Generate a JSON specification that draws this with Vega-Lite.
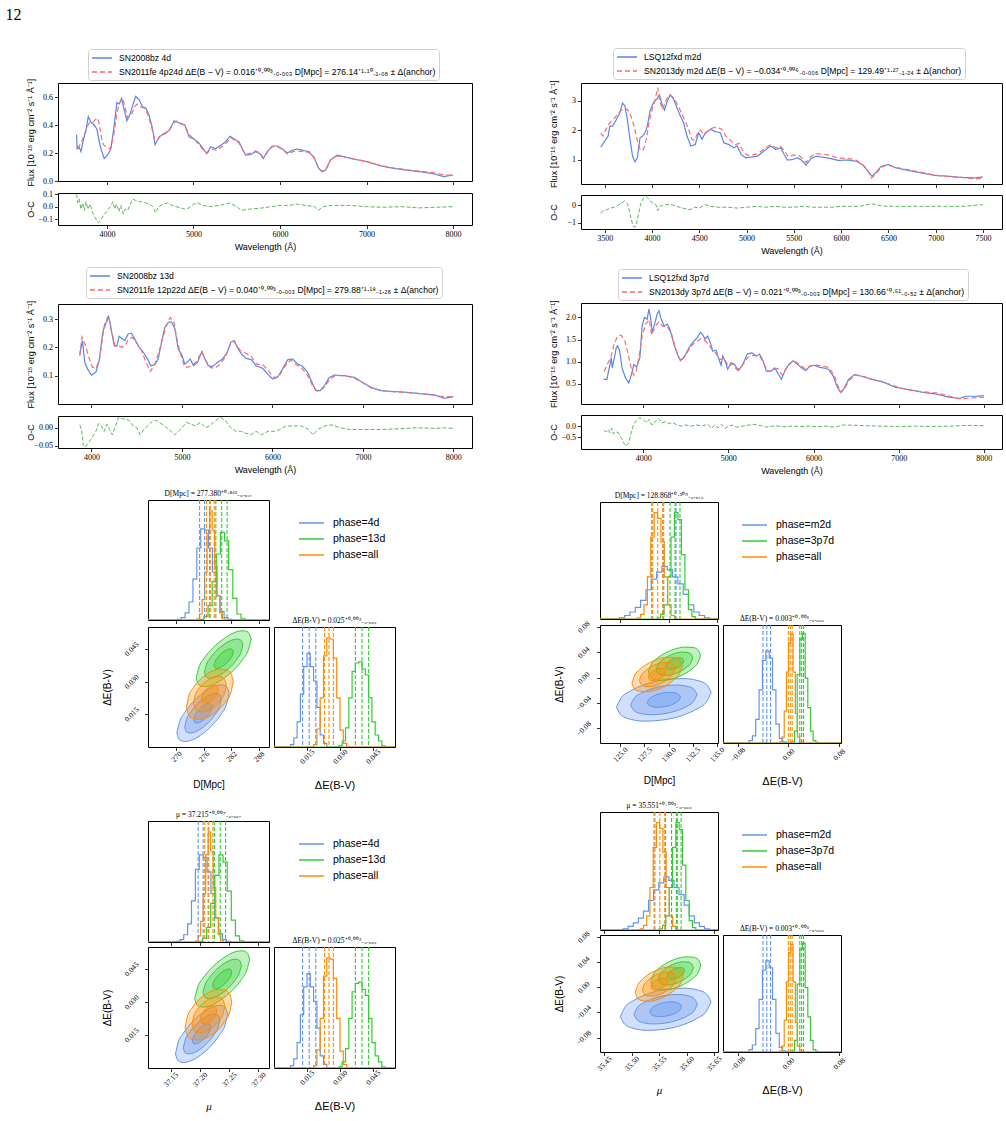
{
"$schema": "https://vega.github.io/schema/vega-lite/v6.json",
"padding": {"left": 5, "top": 7, "right": 2, "bottom": 2},
"title": {"text": "12", "anchor": "start", "frame": "bounds", "font": "Liberation Serif", "fontSize": 16, "fontWeight": "normal", "color": "#000", "dx": -20, "offset": 24},
"config": {
  "view": {"stroke": "#000", "strokeWidth": 1},
  "axis": {"grid": false, "domain": false, "tickColor": "#000", "tickSize": 3.5, "tickWidth": 0.8, "labelFont": "Liberation Serif", "labelFontSize": 8, "labelColor": "#000", "labelPadding": 2, "labelFlush": false, "labelOverlap": false, "titleFont": "Liberation Sans", "titleFontSize": 9, "titleFontWeight": "normal", "titleColor": "#000", "titlePadding": 4},
  "legend": {"labelColor": "#000"}
},
"datasets": {
"fAL": [
{"w":3650,"f":0.33,"s":"a"},{"w":3656,"f":0.23,"s":"a"},{"w":3681,"f":0.24,"s":"a"},{"w":3700,"f":0.21,"s":"a"},{"w":3731,"f":0.30,"s":"a"},{"w":3758,"f":0.36,"s":"a"},{"w":3785,"f":0.46,"s":"a"},{"w":3815,"f":0.42,"s":"a"},{"w":3854,"f":0.40,"s":"a"},{"w":3885,"f":0.37,"s":"a"},{"w":3912,"f":0.28,"s":"a"},{"w":3931,"f":0.23,"s":"a"},{"w":3969,"f":0.16,"s":"a"},{"w":4008,"f":0.185,"s":"a"},{"w":4046,"f":0.23,"s":"a"},{"w":4085,"f":0.40,"s":"a"},{"w":4115,"f":0.56,"s":"a"},{"w":4142,"f":0.55,"s":"a"},{"w":4169,"f":0.59,"s":"a"},{"w":4192,"f":0.53,"s":"a"},{"w":4231,"f":0.43,"s":"a"},{"w":4269,"f":0.48,"s":"a"},{"w":4308,"f":0.56,"s":"a"},{"w":4334,"f":0.605,"s":"a"},{"w":4373,"f":0.58,"s":"a"},{"w":4411,"f":0.53,"s":"a"},{"w":4450,"f":0.52,"s":"a"},{"w":4488,"f":0.47,"s":"a"},{"w":4527,"f":0.375,"s":"a"},{"w":4557,"f":0.26,"s":"a"},{"w":4604,"f":0.315,"s":"a"},{"w":4661,"f":0.34,"s":"a"},{"w":4719,"f":0.36,"s":"a"},{"w":4777,"f":0.43,"s":"a"},{"w":4815,"f":0.42,"s":"a"},{"w":4854,"f":0.41,"s":"a"},{"w":4900,"f":0.40,"s":"a"},{"w":4950,"f":0.315,"s":"a"},{"w":5007,"f":0.30,"s":"a"},{"w":5065,"f":0.27,"s":"a"},{"w":5115,"f":0.23,"s":"a"},{"w":5153,"f":0.195,"s":"a"},{"w":5200,"f":0.245,"s":"a"},{"w":5257,"f":0.23,"s":"a"},{"w":5315,"f":0.255,"s":"a"},{"w":5373,"f":0.28,"s":"a"},{"w":5423,"f":0.32,"s":"a"},{"w":5469,"f":0.30,"s":"a"},{"w":5526,"f":0.28,"s":"a"},{"w":5565,"f":0.23,"s":"a"},{"w":5603,"f":0.185,"s":"a"},{"w":5661,"f":0.19,"s":"a"},{"w":5719,"f":0.21,"s":"a"},{"w":5769,"f":0.195,"s":"a"},{"w":5807,"f":0.16,"s":"a"},{"w":5853,"f":0.21,"s":"a"},{"w":5911,"f":0.25,"s":"a"},{"w":5969,"f":0.25,"s":"a"},{"w":6026,"f":0.23,"s":"a"},{"w":6084,"f":0.20,"s":"a"},{"w":6142,"f":0.22,"s":"a"},{"w":6199,"f":0.228,"s":"a"},{"w":6257,"f":0.22,"s":"a"},{"w":6334,"f":0.21,"s":"a"},{"w":6391,"f":0.17,"s":"a"},{"w":6449,"f":0.09,"s":"a"},{"w":6487,"f":0.066,"s":"a"},{"w":6526,"f":0.078,"s":"a"},{"w":6584,"f":0.15,"s":"a"},{"w":6660,"f":0.185,"s":"a"},{"w":6737,"f":0.173,"s":"a"},{"w":6853,"f":0.157,"s":"a"},{"w":7006,"f":0.138,"s":"a"},{"w":7160,"f":0.109,"s":"a"},{"w":7314,"f":0.09,"s":"a"},{"w":7468,"f":0.078,"s":"a"},{"w":7622,"f":0.066,"s":"a"},{"w":7775,"f":0.052,"s":"a"},{"w":7891,"f":0.031,"s":"a"},{"w":8000,"f":0.043,"s":"a"},
{"w":3650,"f":0.24,"s":"b"},{"w":3681,"f":0.25,"s":"b"},{"w":3720,"f":0.30,"s":"b"},{"w":3760,"f":0.37,"s":"b"},{"w":3800,"f":0.42,"s":"b"},{"w":3840,"f":0.42,"s":"b"},{"w":3870,"f":0.44,"s":"b"},{"w":3892,"f":0.45,"s":"b"},{"w":3915,"f":0.40,"s":"b"},{"w":3940,"f":0.30,"s":"b"},{"w":3960,"f":0.26,"s":"b"},{"w":4000,"f":0.24,"s":"b"},{"w":4040,"f":0.23,"s":"b"},{"w":4080,"f":0.33,"s":"b"},{"w":4120,"f":0.50,"s":"b"},{"w":4150,"f":0.56,"s":"b"},{"w":4180,"f":0.59,"s":"b"},{"w":4200,"f":0.55,"s":"b"},{"w":4240,"f":0.45,"s":"b"},{"w":4280,"f":0.47,"s":"b"},{"w":4320,"f":0.53,"s":"b"},{"w":4350,"f":0.55,"s":"b"},{"w":4390,"f":0.53,"s":"b"},{"w":4430,"f":0.52,"s":"b"},{"w":4470,"f":0.48,"s":"b"},{"w":4510,"f":0.40,"s":"b"},{"w":4550,"f":0.30,"s":"b"},{"w":4580,"f":0.29,"s":"b"},{"w":4620,"f":0.32,"s":"b"},{"w":4680,"f":0.34,"s":"b"},{"w":4730,"f":0.37,"s":"b"},{"w":4780,"f":0.42,"s":"b"},{"w":4820,"f":0.43,"s":"b"},{"w":4860,"f":0.41,"s":"b"},{"w":4900,"f":0.40,"s":"b"},{"w":4950,"f":0.33,"s":"b"},{"w":5007,"f":0.30,"s":"b"},{"w":5065,"f":0.26,"s":"b"},{"w":5115,"f":0.22,"s":"b"},{"w":5160,"f":0.20,"s":"b"},{"w":5210,"f":0.23,"s":"b"},{"w":5260,"f":0.22,"s":"b"},{"w":5320,"f":0.24,"s":"b"},{"w":5380,"f":0.27,"s":"b"},{"w":5430,"f":0.31,"s":"b"},{"w":5480,"f":0.29,"s":"b"},{"w":5530,"f":0.27,"s":"b"},{"w":5570,"f":0.22,"s":"b"},{"w":5610,"f":0.19,"s":"b"},{"w":5660,"f":0.20,"s":"b"},{"w":5720,"f":0.215,"s":"b"},{"w":5770,"f":0.20,"s":"b"},{"w":5810,"f":0.165,"s":"b"},{"w":5860,"f":0.21,"s":"b"},{"w":5911,"f":0.245,"s":"b"},{"w":5970,"f":0.245,"s":"b"},{"w":6030,"f":0.225,"s":"b"},{"w":6090,"f":0.19,"s":"b"},{"w":6150,"f":0.21,"s":"b"},{"w":6200,"f":0.215,"s":"b"},{"w":6260,"f":0.21,"s":"b"},{"w":6334,"f":0.205,"s":"b"},{"w":6391,"f":0.17,"s":"b"},{"w":6440,"f":0.10,"s":"b"},{"w":6487,"f":0.07,"s":"b"},{"w":6530,"f":0.08,"s":"b"},{"w":6584,"f":0.15,"s":"b"},{"w":6660,"f":0.18,"s":"b"},{"w":6737,"f":0.172,"s":"b"},{"w":6853,"f":0.157,"s":"b"},{"w":7006,"f":0.138,"s":"b"},{"w":7160,"f":0.11,"s":"b"},{"w":7314,"f":0.093,"s":"b"},{"w":7468,"f":0.08,"s":"b"},{"w":7622,"f":0.07,"s":"b"},{"w":7775,"f":0.058,"s":"b"},{"w":7891,"f":0.045,"s":"b"},{"w":8000,"f":0.04,"s":"b"}
],
"oAL": [
{"w":3650,"d":0.10},{"w":3665,"d":0.03},{"w":3680,"d":0.06},{"w":3700,"d":-0.02},{"w":3720,"d":0.03},{"w":3740,"d":-0.03},{"w":3760,"d":0.04},{"w":3780,"d":-0.02},{"w":3805,"d":0.02},{"w":3835,"d":-0.05},{"w":3865,"d":-0.09},{"w":3900,"d":-0.13},{"w":3930,"d":-0.11},{"w":3960,"d":-0.07},{"w":4000,"d":-0.04},{"w":4040,"d":0.0},{"w":4070,"d":0.04},{"w":4090,"d":-0.02},{"w":4110,"d":0.02},{"w":4140,"d":-0.04},{"w":4160,"d":0.01},{"w":4190,"d":-0.06},{"w":4210,"d":-0.02},{"w":4240,"d":-0.03},{"w":4270,"d":0.02},{"w":4300,"d":0.06},{"w":4330,"d":0.05},{"w":4360,"d":0.04},{"w":4400,"d":0.04},{"w":4450,"d":0.03},{"w":4500,"d":0.02},{"w":4540,"d":-0.01},{"w":4560,"d":-0.05},{"w":4600,"d":0.0},{"w":4650,"d":0.02},{"w":4700,"d":0.03},{"w":4750,"d":0.01},{"w":4800,"d":0.0},{"w":4850,"d":-0.01},{"w":4900,"d":-0.02},{"w":4950,"d":-0.01},{"w":5000,"d":0.02},{"w":5050,"d":0.03},{"w":5100,"d":0.01},{"w":5200,"d":0.0},{"w":5300,"d":0.01},{"w":5420,"d":0.03},{"w":5500,"d":0.0},{"w":5550,"d":-0.03},{"w":5650,"d":-0.02},{"w":5800,"d":-0.01},{"w":5900,"d":0.0},{"w":6000,"d":0.01},{"w":6100,"d":0.01},{"w":6200,"d":0.02},{"w":6300,"d":0.01},{"w":6400,"d":0.0},{"w":6440,"d":-0.03},{"w":6500,"d":0.0},{"w":6600,"d":0.01},{"w":6800,"d":0.01},{"w":7000,"d":0.0},{"w":7200,"d":-0.005},{"w":7400,"d":0.0},{"w":7600,"d":-0.01},{"w":7800,"d":-0.005},{"w":8000,"d":0.0}
],
"fAR": [
{"w":3457,"f":1.42,"s":"a"},{"w":3500,"f":1.63,"s":"a"},{"w":3535,"f":1.8,"s":"a"},{"w":3553,"f":2.14,"s":"a"},{"w":3582,"f":2.14,"s":"a"},{"w":3624,"f":2.37,"s":"a"},{"w":3660,"f":2.6,"s":"a"},{"w":3688,"f":2.92,"s":"a"},{"w":3713,"f":2.83,"s":"a"},{"w":3738,"f":2.37,"s":"a"},{"w":3766,"f":1.69,"s":"a"},{"w":3794,"f":1.11,"s":"a"},{"w":3819,"f":0.92,"s":"a"},{"w":3844,"f":1.06,"s":"a"},{"w":3872,"f":1.74,"s":"a"},{"w":3901,"f":1.8,"s":"a"},{"w":3926,"f":1.91,"s":"a"},{"w":3950,"f":2.14,"s":"a"},{"w":3979,"f":2.66,"s":"a"},{"w":4014,"f":2.94,"s":"a"},{"w":4050,"f":3.06,"s":"a"},{"w":4078,"f":3.19,"s":"a"},{"w":4106,"f":2.89,"s":"a"},{"w":4131,"f":2.69,"s":"a"},{"w":4156,"f":2.94,"s":"a"},{"w":4191,"f":3.2,"s":"a"},{"w":4227,"f":3.06,"s":"a"},{"w":4262,"f":2.77,"s":"a"},{"w":4298,"f":2.49,"s":"a"},{"w":4333,"f":2.26,"s":"a"},{"w":4369,"f":1.8,"s":"a"},{"w":4411,"f":1.46,"s":"a"},{"w":4457,"f":1.51,"s":"a"},{"w":4493,"f":1.91,"s":"a"},{"w":4528,"f":1.69,"s":"a"},{"w":4564,"f":1.91,"s":"a"},{"w":4617,"f":2.03,"s":"a"},{"w":4670,"f":1.95,"s":"a"},{"w":4723,"f":1.91,"s":"a"},{"w":4759,"f":1.57,"s":"a"},{"w":4812,"f":1.51,"s":"a"},{"w":4865,"f":1.4,"s":"a"},{"w":4901,"f":1.46,"s":"a"},{"w":4943,"f":1.17,"s":"a"},{"w":4989,"f":1.06,"s":"a"},{"w":5043,"f":1.08,"s":"a"},{"w":5113,"f":1.11,"s":"a"},{"w":5184,"f":1.29,"s":"a"},{"w":5255,"f":1.46,"s":"a"},{"w":5308,"f":1.34,"s":"a"},{"w":5362,"f":1.4,"s":"a"},{"w":5397,"f":1.17,"s":"a"},{"w":5433,"f":0.98,"s":"a"},{"w":5486,"f":1.0,"s":"a"},{"w":5539,"f":1.06,"s":"a"},{"w":5582,"f":0.97,"s":"a"},{"w":5628,"f":0.81,"s":"a"},{"w":5681,"f":1.03,"s":"a"},{"w":5734,"f":1.11,"s":"a"},{"w":5805,"f":1.08,"s":"a"},{"w":5894,"f":1.03,"s":"a"},{"w":5964,"f":0.97,"s":"a"},{"w":6071,"f":0.98,"s":"a"},{"w":6160,"f":0.94,"s":"a"},{"w":6230,"f":0.81,"s":"a"},{"w":6284,"f":0.6,"s":"a"},{"w":6326,"f":0.43,"s":"a"},{"w":6362,"f":0.54,"s":"a"},{"w":6425,"f":0.77,"s":"a"},{"w":6496,"f":0.83,"s":"a"},{"w":6585,"f":0.71,"s":"a"},{"w":6709,"f":0.63,"s":"a"},{"w":6851,"f":0.54,"s":"a"},{"w":6993,"f":0.46,"s":"a"},{"w":7135,"f":0.43,"s":"a"},{"w":7276,"f":0.39,"s":"a"},{"w":7418,"f":0.37,"s":"a"},{"w":7500,"f":0.41,"s":"a"},
{"w":3457,"f":1.9,"s":"b"},{"w":3480,"f":1.8,"s":"b"},{"w":3540,"f":2.2,"s":"b"},{"w":3600,"f":2.4,"s":"b"},{"w":3650,"f":2.6,"s":"b"},{"w":3700,"f":2.75,"s":"b"},{"w":3740,"f":2.7,"s":"b"},{"w":3780,"f":2.45,"s":"b"},{"w":3820,"f":2.0,"s":"b"},{"w":3850,"f":1.55,"s":"b"},{"w":3880,"f":1.3,"s":"b"},{"w":3910,"f":1.35,"s":"b"},{"w":3940,"f":1.7,"s":"b"},{"w":3970,"f":2.3,"s":"b"},{"w":4000,"f":2.7,"s":"b"},{"w":4030,"f":3.0,"s":"b"},{"w":4060,"f":3.45,"s":"b"},{"w":4080,"f":3.0,"s":"b"},{"w":4110,"f":2.7,"s":"b"},{"w":4160,"f":3.1,"s":"b"},{"w":4190,"f":3.2,"s":"b"},{"w":4230,"f":3.1,"s":"b"},{"w":4280,"f":2.8,"s":"b"},{"w":4330,"f":2.45,"s":"b"},{"w":4380,"f":2.1,"s":"b"},{"w":4420,"f":1.7,"s":"b"},{"w":4450,"f":1.65,"s":"b"},{"w":4480,"f":1.9,"s":"b"},{"w":4510,"f":2.0,"s":"b"},{"w":4550,"f":1.85,"s":"b"},{"w":4620,"f":2.05,"s":"b"},{"w":4670,"f":2.1,"s":"b"},{"w":4730,"f":2.05,"s":"b"},{"w":4780,"f":1.8,"s":"b"},{"w":4830,"f":1.65,"s":"b"},{"w":4880,"f":1.5,"s":"b"},{"w":4920,"f":1.55,"s":"b"},{"w":4960,"f":1.3,"s":"b"},{"w":5000,"f":1.15,"s":"b"},{"w":5060,"f":1.15,"s":"b"},{"w":5120,"f":1.2,"s":"b"},{"w":5180,"f":1.35,"s":"b"},{"w":5250,"f":1.5,"s":"b"},{"w":5310,"f":1.4,"s":"b"},{"w":5360,"f":1.45,"s":"b"},{"w":5400,"f":1.3,"s":"b"},{"w":5440,"f":1.1,"s":"b"},{"w":5500,"f":1.15,"s":"b"},{"w":5550,"f":1.15,"s":"b"},{"w":5600,"f":1.0,"s":"b"},{"w":5630,"f":0.9,"s":"b"},{"w":5680,"f":1.1,"s":"b"},{"w":5730,"f":1.2,"s":"b"},{"w":5800,"f":1.18,"s":"b"},{"w":5880,"f":1.15,"s":"b"},{"w":5960,"f":1.05,"s":"b"},{"w":6070,"f":1.03,"s":"b"},{"w":6150,"f":1.0,"s":"b"},{"w":6220,"f":0.85,"s":"b"},{"w":6280,"f":0.65,"s":"b"},{"w":6320,"f":0.37,"s":"b"},{"w":6360,"f":0.48,"s":"b"},{"w":6420,"f":0.72,"s":"b"},{"w":6490,"f":0.82,"s":"b"},{"w":6580,"f":0.73,"s":"b"},{"w":6700,"f":0.66,"s":"b"},{"w":6850,"f":0.56,"s":"b"},{"w":7000,"f":0.46,"s":"b"},{"w":7150,"f":0.42,"s":"b"},{"w":7300,"f":0.38,"s":"b"},{"w":7420,"f":0.34,"s":"b"},{"w":7500,"f":0.36,"s":"b"}
],
"oAR": [
{"w":3457,"d":-0.45},{"w":3480,"d":-0.3},{"w":3520,"d":-0.25},{"w":3560,"d":-0.15},{"w":3600,"d":-0.1},{"w":3640,"d":0.0},{"w":3680,"d":0.15},{"w":3710,"d":0.25},{"w":3740,"d":0.1},{"w":3760,"d":-0.3},{"w":3780,"d":-0.8},{"w":3800,"d":-1.2},{"w":3820,"d":-1.25},{"w":3840,"d":-0.9},{"w":3860,"d":-0.4},{"w":3880,"d":0.1},{"w":3910,"d":0.45},{"w":3940,"d":0.5},{"w":3970,"d":0.35},{"w":4000,"d":0.15},{"w":4040,"d":0.05},{"w":4060,"d":-0.3},{"w":4080,"d":-0.05},{"w":4110,"d":0.0},{"w":4140,"d":0.05},{"w":4200,"d":0.05},{"w":4260,"d":-0.05},{"w":4320,"d":-0.15},{"w":4400,"d":-0.25},{"w":4450,"d":-0.1},{"w":4500,"d":-0.15},{"w":4560,"d":0.05},{"w":4620,"d":-0.05},{"w":4700,"d":-0.1},{"w":4800,"d":-0.1},{"w":4900,"d":-0.15},{"w":5000,"d":-0.1},{"w":5100,"d":-0.05},{"w":5200,"d":-0.1},{"w":5300,"d":-0.05},{"w":5400,"d":-0.1},{"w":5500,"d":-0.1},{"w":5600,"d":-0.05},{"w":5700,"d":-0.1},{"w":5800,"d":-0.1},{"w":5900,"d":-0.1},{"w":6000,"d":-0.05},{"w":6100,"d":-0.05},{"w":6200,"d":-0.05},{"w":6320,"d":0.1},{"w":6400,"d":0.0},{"w":6500,"d":-0.05},{"w":6700,"d":-0.05},{"w":6900,"d":-0.05},{"w":7100,"d":-0.05},{"w":7300,"d":-0.05},{"w":7500,"d":0.05}
],
"fBL": [
{"w":3871,"f":0.176,"s":"a"},{"w":3900,"f":0.224,"s":"a"},{"w":3926,"f":0.147,"s":"a"},{"w":3956,"f":0.124,"s":"a"},{"w":4000,"f":0.102,"s":"a"},{"w":4048,"f":0.112,"s":"a"},{"w":4085,"f":0.153,"s":"a"},{"w":4122,"f":0.247,"s":"a"},{"w":4147,"f":0.282,"s":"a"},{"w":4170,"f":0.29,"s":"a"},{"w":4188,"f":0.312,"s":"a"},{"w":4214,"f":0.27,"s":"a"},{"w":4251,"f":0.206,"s":"a"},{"w":4280,"f":0.204,"s":"a"},{"w":4306,"f":0.239,"s":"a"},{"w":4332,"f":0.232,"s":"a"},{"w":4369,"f":0.224,"s":"a"},{"w":4406,"f":0.247,"s":"a"},{"w":4442,"f":0.25,"s":"a"},{"w":4479,"f":0.229,"s":"a"},{"w":4527,"f":0.2,"s":"a"},{"w":4575,"f":0.182,"s":"a"},{"w":4619,"f":0.159,"s":"a"},{"w":4656,"f":0.135,"s":"a"},{"w":4701,"f":0.139,"s":"a"},{"w":4737,"f":0.159,"s":"a"},{"w":4774,"f":0.218,"s":"a"},{"w":4811,"f":0.271,"s":"a"},{"w":4848,"f":0.288,"s":"a"},{"w":4885,"f":0.29,"s":"a"},{"w":4922,"f":0.265,"s":"a"},{"w":4959,"f":0.194,"s":"a"},{"w":4995,"f":0.176,"s":"a"},{"w":5032,"f":0.141,"s":"a"},{"w":5062,"f":0.149,"s":"a"},{"w":5091,"f":0.159,"s":"a"},{"w":5128,"f":0.135,"s":"a"},{"w":5172,"f":0.147,"s":"a"},{"w":5220,"f":0.185,"s":"a"},{"w":5254,"f":0.159,"s":"a"},{"w":5290,"f":0.135,"s":"a"},{"w":5338,"f":0.133,"s":"a"},{"w":5394,"f":0.147,"s":"a"},{"w":5449,"f":0.159,"s":"a"},{"w":5497,"f":0.18,"s":"a"},{"w":5541,"f":0.218,"s":"a"},{"w":5578,"f":0.224,"s":"a"},{"w":5622,"f":0.194,"s":"a"},{"w":5659,"f":0.176,"s":"a"},{"w":5707,"f":0.161,"s":"a"},{"w":5770,"f":0.156,"s":"a"},{"w":5818,"f":0.135,"s":"a"},{"w":5891,"f":0.126,"s":"a"},{"w":5947,"f":0.106,"s":"a"},{"w":6002,"f":0.088,"s":"a"},{"w":6057,"f":0.094,"s":"a"},{"w":6113,"f":0.124,"s":"a"},{"w":6168,"f":0.156,"s":"a"},{"w":6223,"f":0.159,"s":"a"},{"w":6279,"f":0.141,"s":"a"},{"w":6334,"f":0.133,"s":"a"},{"w":6389,"f":0.112,"s":"a"},{"w":6445,"f":0.071,"s":"a"},{"w":6481,"f":0.047,"s":"a"},{"w":6529,"f":0.047,"s":"a"},{"w":6574,"f":0.065,"s":"a"},{"w":6629,"f":0.094,"s":"a"},{"w":6684,"f":0.102,"s":"a"},{"w":6795,"f":0.1,"s":"a"},{"w":6905,"f":0.094,"s":"a"},{"w":6998,"f":0.076,"s":"a"},{"w":7090,"f":0.059,"s":"a"},{"w":7200,"f":0.047,"s":"a"},{"w":7348,"f":0.044,"s":"a"},{"w":7495,"f":0.041,"s":"a"},{"w":7643,"f":0.036,"s":"a"},{"w":7790,"f":0.032,"s":"a"},{"w":7901,"f":0.02,"s":"a"},{"w":8000,"f":0.026,"s":"a"},
{"w":3871,"f":0.17,"s":"b"},{"w":3895,"f":0.237,"s":"b"},{"w":3930,"f":0.21,"s":"b"},{"w":3970,"f":0.165,"s":"b"},{"w":4010,"f":0.13,"s":"b"},{"w":4050,"f":0.125,"s":"b"},{"w":4090,"f":0.16,"s":"b"},{"w":4130,"f":0.25,"s":"b"},{"w":4175,"f":0.305,"s":"b"},{"w":4190,"f":0.31,"s":"b"},{"w":4220,"f":0.26,"s":"b"},{"w":4260,"f":0.205,"s":"b"},{"w":4300,"f":0.205,"s":"b"},{"w":4340,"f":0.2,"s":"b"},{"w":4370,"f":0.205,"s":"b"},{"w":4410,"f":0.23,"s":"b"},{"w":4450,"f":0.235,"s":"b"},{"w":4500,"f":0.215,"s":"b"},{"w":4550,"f":0.19,"s":"b"},{"w":4600,"f":0.15,"s":"b"},{"w":4650,"f":0.115,"s":"b"},{"w":4700,"f":0.14,"s":"b"},{"w":4760,"f":0.2,"s":"b"},{"w":4820,"f":0.27,"s":"b"},{"w":4870,"f":0.305,"s":"b"},{"w":4910,"f":0.29,"s":"b"},{"w":4950,"f":0.22,"s":"b"},{"w":4990,"f":0.17,"s":"b"},{"w":5030,"f":0.13,"s":"b"},{"w":5070,"f":0.13,"s":"b"},{"w":5110,"f":0.135,"s":"b"},{"w":5160,"f":0.15,"s":"b"},{"w":5220,"f":0.185,"s":"b"},{"w":5260,"f":0.155,"s":"b"},{"w":5310,"f":0.13,"s":"b"},{"w":5360,"f":0.125,"s":"b"},{"w":5420,"f":0.14,"s":"b"},{"w":5480,"f":0.165,"s":"b"},{"w":5540,"f":0.215,"s":"b"},{"w":5580,"f":0.22,"s":"b"},{"w":5640,"f":0.19,"s":"b"},{"w":5700,"f":0.18,"s":"b"},{"w":5760,"f":0.17,"s":"b"},{"w":5830,"f":0.14,"s":"b"},{"w":5890,"f":0.14,"s":"b"},{"w":5950,"f":0.12,"s":"b"},{"w":6010,"f":0.095,"s":"b"},{"w":6070,"f":0.095,"s":"b"},{"w":6130,"f":0.13,"s":"b"},{"w":6200,"f":0.155,"s":"b"},{"w":6260,"f":0.14,"s":"b"},{"w":6330,"f":0.125,"s":"b"},{"w":6390,"f":0.1,"s":"b"},{"w":6450,"f":0.06,"s":"b"},{"w":6500,"f":0.045,"s":"b"},{"w":6560,"f":0.055,"s":"b"},{"w":6630,"f":0.085,"s":"b"},{"w":6690,"f":0.1,"s":"b"},{"w":6800,"f":0.1,"s":"b"},{"w":6900,"f":0.092,"s":"b"},{"w":7000,"f":0.075,"s":"b"},{"w":7100,"f":0.055,"s":"b"},{"w":7250,"f":0.045,"s":"b"},{"w":7400,"f":0.042,"s":"b"},{"w":7550,"f":0.039,"s":"b"},{"w":7700,"f":0.035,"s":"b"},{"w":7850,"f":0.028,"s":"b"},{"w":8000,"f":0.025,"s":"b"}
],
"oBL": [
{"w":3871,"d":0.008},{"w":3890,"d":-0.005},{"w":3910,"d":-0.05},{"w":3930,"d":-0.055},{"w":3960,"d":-0.045},{"w":4000,"d":-0.03},{"w":4050,"d":-0.01},{"w":4080,"d":0.012},{"w":4110,"d":0.005},{"w":4140,"d":-0.01},{"w":4170,"d":0.01},{"w":4200,"d":-0.005},{"w":4230,"d":-0.02},{"w":4260,"d":0.0},{"w":4300,"d":0.03},{"w":4340,"d":0.025},{"w":4380,"d":0.025},{"w":4420,"d":0.02},{"w":4460,"d":0.005},{"w":4500,"d":0.0},{"w":4540,"d":-0.02},{"w":4580,"d":-0.005},{"w":4620,"d":0.005},{"w":4680,"d":0.02},{"w":4720,"d":0.02},{"w":4780,"d":0.01},{"w":4830,"d":0.0},{"w":4880,"d":-0.01},{"w":4920,"d":-0.02},{"w":4960,"d":-0.01},{"w":5000,"d":0.0},{"w":5050,"d":0.015},{"w":5100,"d":0.01},{"w":5150,"d":0.005},{"w":5200,"d":0.015},{"w":5260,"d":0.0},{"w":5300,"d":0.005},{"w":5350,"d":0.015},{"w":5420,"d":0.03},{"w":5480,"d":0.02},{"w":5540,"d":0.0},{"w":5600,"d":-0.01},{"w":5650,"d":-0.01},{"w":5700,"d":-0.015},{"w":5760,"d":-0.02},{"w":5820,"d":-0.01},{"w":5880,"d":-0.02},{"w":5950,"d":-0.01},{"w":6020,"d":-0.01},{"w":6080,"d":-0.005},{"w":6150,"d":0.005},{"w":6250,"d":0.005},{"w":6320,"d":0.005},{"w":6400,"d":-0.005},{"w":6450,"d":-0.02},{"w":6500,"d":-0.005},{"w":6580,"d":0.005},{"w":6650,"d":0.008},{"w":6750,"d":0.0},{"w":6850,"d":-0.005},{"w":7000,"d":-0.005},{"w":7200,"d":-0.005},{"w":7400,"d":-0.003},{"w":7600,"d":0.0},{"w":7800,"d":-0.002},{"w":7900,"d":0.0},{"w":8000,"d":-0.002}
],
"fBR": [
{"w":3535,"f":0.6,"s":"a"},{"w":3574,"f":0.6,"s":"a"},{"w":3606,"f":0.9,"s":"a"},{"w":3626,"f":1.09,"s":"a"},{"w":3637,"f":0.86,"s":"a"},{"w":3661,"f":1.09,"s":"a"},{"w":3685,"f":1.32,"s":"a"},{"w":3700,"f":1.36,"s":"a"},{"w":3724,"f":1.24,"s":"a"},{"w":3752,"f":0.86,"s":"a"},{"w":3791,"f":0.64,"s":"a"},{"w":3831,"f":0.52,"s":"a"},{"w":3862,"f":0.71,"s":"a"},{"w":3890,"f":0.94,"s":"a"},{"w":3921,"f":0.88,"s":"a"},{"w":3961,"f":1.09,"s":"a"},{"w":3988,"f":1.81,"s":"a"},{"w":4016,"f":2.0,"s":"a"},{"w":4047,"f":1.96,"s":"a"},{"w":4067,"f":2.19,"s":"a"},{"w":4087,"f":2.0,"s":"a"},{"w":4106,"f":1.66,"s":"a"},{"w":4134,"f":1.85,"s":"a"},{"w":4165,"f":2.08,"s":"a"},{"w":4185,"f":2.15,"s":"a"},{"w":4205,"f":2.0,"s":"a"},{"w":4244,"f":1.81,"s":"a"},{"w":4284,"f":1.85,"s":"a"},{"w":4315,"f":1.73,"s":"a"},{"w":4362,"f":1.39,"s":"a"},{"w":4410,"f":1.13,"s":"a"},{"w":4441,"f":1.03,"s":"a"},{"w":4489,"f":1.13,"s":"a"},{"w":4540,"f":1.32,"s":"a"},{"w":4579,"f":1.43,"s":"a"},{"w":4638,"f":1.55,"s":"a"},{"w":4670,"f":1.66,"s":"a"},{"w":4697,"f":1.62,"s":"a"},{"w":4725,"f":1.51,"s":"a"},{"w":4756,"f":1.58,"s":"a"},{"w":4788,"f":1.43,"s":"a"},{"w":4816,"f":1.24,"s":"a"},{"w":4855,"f":1.26,"s":"a"},{"w":4883,"f":1.09,"s":"a"},{"w":4914,"f":0.92,"s":"a"},{"w":4934,"f":1.13,"s":"a"},{"w":4961,"f":1.02,"s":"a"},{"w":4993,"f":0.83,"s":"a"},{"w":5032,"f":0.98,"s":"a"},{"w":5072,"f":0.94,"s":"a"},{"w":5119,"f":0.8,"s":"a"},{"w":5170,"f":0.94,"s":"a"},{"w":5221,"f":1.17,"s":"a"},{"w":5277,"f":1.2,"s":"a"},{"w":5328,"f":1.13,"s":"a"},{"w":5367,"f":1.17,"s":"a"},{"w":5407,"f":1.02,"s":"a"},{"w":5446,"f":0.79,"s":"a"},{"w":5505,"f":0.79,"s":"a"},{"w":5544,"f":0.86,"s":"a"},{"w":5592,"f":0.71,"s":"a"},{"w":5623,"f":0.6,"s":"a"},{"w":5663,"f":0.79,"s":"a"},{"w":5710,"f":0.94,"s":"a"},{"w":5761,"f":1.02,"s":"a"},{"w":5812,"f":0.94,"s":"a"},{"w":5860,"f":0.86,"s":"a"},{"w":5907,"f":0.8,"s":"a"},{"w":5958,"f":0.9,"s":"a"},{"w":6009,"f":0.92,"s":"a"},{"w":6057,"f":0.88,"s":"a"},{"w":6116,"f":0.86,"s":"a"},{"w":6175,"f":0.83,"s":"a"},{"w":6234,"f":0.67,"s":"a"},{"w":6273,"f":0.45,"s":"a"},{"w":6313,"f":0.32,"s":"a"},{"w":6352,"f":0.37,"s":"a"},{"w":6411,"f":0.6,"s":"a"},{"w":6482,"f":0.71,"s":"a"},{"w":6569,"f":0.67,"s":"a"},{"w":6687,"f":0.6,"s":"a"},{"w":6805,"f":0.55,"s":"a"},{"w":6963,"f":0.42,"s":"a"},{"w":7120,"f":0.37,"s":"a"},{"w":7278,"f":0.31,"s":"a"},{"w":7436,"f":0.27,"s":"a"},{"w":7593,"f":0.2,"s":"a"},{"w":7712,"f":0.17,"s":"a"},{"w":7791,"f":0.22,"s":"a"},{"w":7909,"f":0.22,"s":"a"},{"w":8000,"f":0.23,"s":"a"},
{"w":3540,"f":0.78,"s":"b"},{"w":3580,"f":0.95,"s":"b"},{"w":3620,"f":1.1,"s":"b"},{"w":3660,"f":1.4,"s":"b"},{"w":3700,"f":1.58,"s":"b"},{"w":3740,"f":1.6,"s":"b"},{"w":3780,"f":1.5,"s":"b"},{"w":3820,"f":1.2,"s":"b"},{"w":3860,"f":0.85,"s":"b"},{"w":3890,"f":0.7,"s":"b"},{"w":3920,"f":0.8,"s":"b"},{"w":3950,"f":1.1,"s":"b"},{"w":3990,"f":1.6,"s":"b"},{"w":4030,"f":1.85,"s":"b"},{"w":4070,"f":1.95,"s":"b"},{"w":4100,"f":1.6,"s":"b"},{"w":4130,"f":1.75,"s":"b"},{"w":4180,"f":1.9,"s":"b"},{"w":4230,"f":1.8,"s":"b"},{"w":4280,"f":1.8,"s":"b"},{"w":4330,"f":1.65,"s":"b"},{"w":4380,"f":1.3,"s":"b"},{"w":4440,"f":1.0,"s":"b"},{"w":4500,"f":1.15,"s":"b"},{"w":4560,"f":1.35,"s":"b"},{"w":4620,"f":1.45,"s":"b"},{"w":4680,"f":1.52,"s":"b"},{"w":4740,"f":1.45,"s":"b"},{"w":4800,"f":1.3,"s":"b"},{"w":4850,"f":1.2,"s":"b"},{"w":4900,"f":1.05,"s":"b"},{"w":4950,"f":1.08,"s":"b"},{"w":5000,"f":0.9,"s":"b"},{"w":5050,"f":0.95,"s":"b"},{"w":5100,"f":0.82,"s":"b"},{"w":5160,"f":0.9,"s":"b"},{"w":5230,"f":1.1,"s":"b"},{"w":5300,"f":1.15,"s":"b"},{"w":5370,"f":1.12,"s":"b"},{"w":5420,"f":0.95,"s":"b"},{"w":5460,"f":0.78,"s":"b"},{"w":5520,"f":0.8,"s":"b"},{"w":5580,"f":0.85,"s":"b"},{"w":5630,"f":0.7,"s":"b"},{"w":5680,"f":0.85,"s":"b"},{"w":5760,"f":1.03,"s":"b"},{"w":5830,"f":0.95,"s":"b"},{"w":5900,"f":0.84,"s":"b"},{"w":5960,"f":0.9,"s":"b"},{"w":6020,"f":0.93,"s":"b"},{"w":6100,"f":0.9,"s":"b"},{"w":6180,"f":0.87,"s":"b"},{"w":6240,"f":0.7,"s":"b"},{"w":6280,"f":0.5,"s":"b"},{"w":6320,"f":0.3,"s":"b"},{"w":6360,"f":0.38,"s":"b"},{"w":6420,"f":0.58,"s":"b"},{"w":6490,"f":0.7,"s":"b"},{"w":6580,"f":0.67,"s":"b"},{"w":6700,"f":0.6,"s":"b"},{"w":6850,"f":0.52,"s":"b"},{"w":7000,"f":0.42,"s":"b"},{"w":7150,"f":0.35,"s":"b"},{"w":7300,"f":0.32,"s":"b"},{"w":7450,"f":0.29,"s":"b"},{"w":7600,"f":0.22,"s":"b"},{"w":7720,"f":0.16,"s":"b"},{"w":7850,"f":0.18,"s":"b"},{"w":8000,"f":0.2,"s":"b"}
],
"oBR": [
{"w":3540,"d":-0.2},{"w":3570,"d":-0.25},{"w":3590,"d":-0.15},{"w":3610,"d":-0.3},{"w":3630,"d":-0.1},{"w":3650,"d":-0.35},{"w":3680,"d":-0.25},{"w":3710,"d":-0.3},{"w":3740,"d":-0.5},{"w":3770,"d":-0.75},{"w":3800,"d":-0.9},{"w":3830,"d":-0.75},{"w":3860,"d":-0.3},{"w":3890,"d":0.1},{"w":3920,"d":0.25},{"w":3960,"d":0.38},{"w":4000,"d":0.3},{"w":4040,"d":0.15},{"w":4070,"d":0.3},{"w":4100,"d":0.05},{"w":4140,"d":0.2},{"w":4180,"d":0.35},{"w":4220,"d":0.15},{"w":4260,"d":0.2},{"w":4300,"d":0.12},{"w":4350,"d":0.15},{"w":4400,"d":0.05},{"w":4450,"d":0.0},{"w":4500,"d":0.05},{"w":4560,"d":0.0},{"w":4620,"d":0.05},{"w":4700,"d":0.02},{"w":4760,"d":0.08},{"w":4800,"d":-0.1},{"w":4840,"d":0.05},{"w":4880,"d":-0.08},{"w":4920,"d":0.08},{"w":4960,"d":-0.1},{"w":5000,"d":0.0},{"w":5050,"d":0.05},{"w":5100,"d":-0.05},{"w":5200,"d":0.02},{"w":5300,"d":0.08},{"w":5400,"d":0.0},{"w":5450,"d":-0.05},{"w":5550,"d":0.02},{"w":5650,"d":-0.03},{"w":5750,"d":0.0},{"w":5850,"d":-0.02},{"w":5950,"d":0.0},{"w":6050,"d":-0.03},{"w":6150,"d":0.0},{"w":6250,"d":-0.05},{"w":6350,"d":0.05},{"w":6450,"d":0.04},{"w":6600,"d":0.02},{"w":6800,"d":0.0},{"w":7000,"d":-0.02},{"w":7200,"d":0.0},{"w":7400,"d":-0.02},{"w":7600,"d":0.0},{"w":7800,"d":0.03},{"w":8000,"d":0.02}
],
"hCLt": [
{"x":263.8,"h":0,"g":"4d"},{"x":270.2,"h":0.005,"g":"4d"},{"x":271.05,"h":0.02,"g":"4d"},{"x":271.9,"h":0.06,"g":"4d"},{"x":272.75,"h":0.15,"g":"4d"},{"x":273.6,"h":0.34,"g":"4d"},{"x":274.45,"h":0.6,"g":"4d"},{"x":275.3,"h":0.76,"g":"4d"},{"x":276.15,"h":0.75,"g":"4d"},{"x":277.0,"h":0.6,"g":"4d"},{"x":277.85,"h":0.4,"g":"4d"},{"x":278.7,"h":0.2,"g":"4d"},{"x":279.55,"h":0.07,"g":"4d"},{"x":280.4,"h":0.02,"g":"4d"},{"x":281.25,"h":0.005,"g":"4d"},{"x":282.1,"h":0,"g":"4d"},{"x":290.2,"h":0,"g":"4d"},
{"x":263.8,"h":0,"g":"13d"},{"x":275.1,"h":0.005,"g":"13d"},{"x":276.0,"h":0.03,"g":"13d"},{"x":276.9,"h":0.12,"g":"13d"},{"x":277.8,"h":0.32,"g":"13d"},{"x":278.7,"h":0.55,"g":"13d"},{"x":279.6,"h":0.73,"g":"13d"},{"x":280.5,"h":0.66,"g":"13d"},{"x":281.4,"h":0.42,"g":"13d"},{"x":282.3,"h":0.18,"g":"13d"},{"x":283.2,"h":0.05,"g":"13d"},{"x":284.1,"h":0.01,"g":"13d"},{"x":285.0,"h":0,"g":"13d"},{"x":290.2,"h":0,"g":"13d"},
{"x":263.8,"h":0,"g":"all"},{"x":274.5,"h":0.01,"g":"all"},{"x":275.05,"h":0.05,"g":"all"},{"x":275.6,"h":0.17,"g":"all"},{"x":276.15,"h":0.4,"g":"all"},{"x":276.7,"h":0.72,"g":"all"},{"x":277.25,"h":0.91,"g":"all"},{"x":277.8,"h":0.75,"g":"all"},{"x":278.35,"h":0.45,"g":"all"},{"x":278.9,"h":0.2,"g":"all"},{"x":279.45,"h":0.06,"g":"all"},{"x":280.0,"h":0.01,"g":"all"},{"x":280.55,"h":0,"g":"all"},{"x":290.2,"h":0,"g":"all"}
],
"qCLt": [{"x":275.06,"g":"4d"},{"x":276.14,"g":"4d"},{"x":277.24,"g":"4d"},{"x":278.6,"g":"13d"},{"x":279.88,"g":"13d"},{"x":281.06,"g":"13d"},{"x":276.55,"g":"all"},{"x":277.38,"g":"all"},{"x":278.24,"g":"all"}],
"hLr": [
{"x":0,"h":0,"g":"4d"},{"x":0.0075,"h":0.02,"g":"4d"},{"x":0.009,"h":0.075,"g":"4d"},{"x":0.0105,"h":0.21,"g":"4d"},{"x":0.012,"h":0.44,"g":"4d"},{"x":0.0135,"h":0.67,"g":"4d"},{"x":0.015,"h":0.78,"g":"4d"},{"x":0.0165,"h":0.67,"g":"4d"},{"x":0.018,"h":0.55,"g":"4d"},{"x":0.0195,"h":0.33,"g":"4d"},{"x":0.021,"h":0.1,"g":"4d"},{"x":0.0225,"h":0.03,"g":"4d"},{"x":0.024,"h":0,"g":"4d"},{"x":0.055,"h":0,"g":"4d"},
{"x":0,"h":0,"g":"13d"},{"x":0.0295,"h":0.01,"g":"13d"},{"x":0.031,"h":0.05,"g":"13d"},{"x":0.0325,"h":0.16,"g":"13d"},{"x":0.034,"h":0.41,"g":"13d"},{"x":0.0355,"h":0.63,"g":"13d"},{"x":0.037,"h":0.7,"g":"13d"},{"x":0.0385,"h":0.71,"g":"13d"},{"x":0.040,"h":0.65,"g":"13d"},{"x":0.0415,"h":0.6,"g":"13d"},{"x":0.043,"h":0.41,"g":"13d"},{"x":0.0445,"h":0.21,"g":"13d"},{"x":0.046,"h":0.1,"g":"13d"},{"x":0.0475,"h":0.05,"g":"13d"},{"x":0.049,"h":0.01,"g":"13d"},{"x":0.0505,"h":0,"g":"13d"},{"x":0.055,"h":0,"g":"13d"},
{"x":0,"h":0,"g":"all"},{"x":0.018,"h":0.02,"g":"all"},{"x":0.0195,"h":0.15,"g":"all"},{"x":0.021,"h":0.41,"g":"all"},{"x":0.0225,"h":0.76,"g":"all"},{"x":0.024,"h":0.91,"g":"all"},{"x":0.0255,"h":0.9,"g":"all"},{"x":0.027,"h":0.74,"g":"all"},{"x":0.0285,"h":0.41,"g":"all"},{"x":0.030,"h":0.14,"g":"all"},{"x":0.0315,"h":0.03,"g":"all"},{"x":0.033,"h":0,"g":"all"},{"x":0.055,"h":0,"g":"all"}
],
"qLr": [{"x":0.013,"g":"4d"},{"x":0.016,"g":"4d"},{"x":0.019,"g":"4d"},{"x":0.037,"g":"13d"},{"x":0.040,"g":"13d"},{"x":0.043,"g":"13d"},{"x":0.023,"g":"all"},{"x":0.025,"g":"all"},{"x":0.027,"g":"all"}],
"hDLt": [
{"x":37.111,"h":0,"g":"4d"},{"x":37.1588,"h":0.005,"g":"4d"},{"x":37.1654,"h":0.02,"g":"4d"},{"x":37.1721,"h":0.06,"g":"4d"},{"x":37.1788,"h":0.15,"g":"4d"},{"x":37.1854,"h":0.34,"g":"4d"},{"x":37.1921,"h":0.6,"g":"4d"},{"x":37.1987,"h":0.72,"g":"4d"},{"x":37.2054,"h":0.7,"g":"4d"},{"x":37.2120,"h":0.58,"g":"4d"},{"x":37.2187,"h":0.4,"g":"4d"},{"x":37.2253,"h":0.2,"g":"4d"},{"x":37.2320,"h":0.07,"g":"4d"},{"x":37.2386,"h":0.02,"g":"4d"},{"x":37.2453,"h":0.005,"g":"4d"},{"x":37.2520,"h":0,"g":"4d"},{"x":37.318,"h":0,"g":"4d"},
{"x":37.111,"h":0,"g":"13d"},{"x":37.1972,"h":0.005,"g":"13d"},{"x":37.2042,"h":0.03,"g":"13d"},{"x":37.2112,"h":0.12,"g":"13d"},{"x":37.2183,"h":0.32,"g":"13d"},{"x":37.2253,"h":0.55,"g":"13d"},{"x":37.2324,"h":0.72,"g":"13d"},{"x":37.2394,"h":0.66,"g":"13d"},{"x":37.2465,"h":0.42,"g":"13d"},{"x":37.2535,"h":0.18,"g":"13d"},{"x":37.2606,"h":0.05,"g":"13d"},{"x":37.2676,"h":0.01,"g":"13d"},{"x":37.2747,"h":0,"g":"13d"},{"x":37.318,"h":0,"g":"13d"},
{"x":37.111,"h":0,"g":"all"},{"x":37.1925,"h":0.01,"g":"all"},{"x":37.1968,"h":0.05,"g":"all"},{"x":37.2011,"h":0.17,"g":"all"},{"x":37.2054,"h":0.4,"g":"all"},{"x":37.2097,"h":0.72,"g":"all"},{"x":37.2140,"h":0.91,"g":"all"},{"x":37.2183,"h":0.75,"g":"all"},{"x":37.2226,"h":0.45,"g":"all"},{"x":37.2269,"h":0.2,"g":"all"},{"x":37.2312,"h":0.06,"g":"all"},{"x":37.2355,"h":0.01,"g":"all"},{"x":37.2398,"h":0,"g":"all"},{"x":37.318,"h":0,"g":"all"}
],
"qDLt": [{"x":37.1968,"g":"4d"},{"x":37.2053,"g":"4d"},{"x":37.2139,"g":"4d"},{"x":37.2246,"g":"13d"},{"x":37.2346,"g":"13d"},{"x":37.2438,"g":"13d"},{"x":37.208,"g":"all"},{"x":37.215,"g":"all"},{"x":37.222,"g":"all"}],
"cCL": [
{"c":"a1","g":"4d","k":"1","x":270.1,"lo":0.0064,"hi":0.0064},{"c":"a1","g":"4d","k":"1","x":270.67,"lo":0.0033,"hi":0.0114},{"c":"a1","g":"4d","k":"1","x":271.81,"lo":0.0025,"hi":0.0158},{"c":"a1","g":"4d","k":"1","x":273.52,"lo":0.0033,"hi":0.0204},{"c":"a1","g":"4d","k":"1","x":275.8,"lo":0.0062,"hi":0.0248},{"c":"a1","g":"4d","k":"1","x":278.08,"lo":0.0106,"hi":0.0277},{"c":"a1","g":"4d","k":"1","x":279.79,"lo":0.0152,"hi":0.0285},{"c":"a1","g":"4d","k":"1","x":280.93,"lo":0.0196,"hi":0.0277},{"c":"a1","g":"4d","k":"1","x":281.5,"lo":0.0246,"hi":0.0246},
{"c":"a2","g":"4d","k":"2","x":271.81,"lo":0.0091,"hi":0.0091},{"c":"a2","g":"4d","k":"2","x":272.21,"lo":0.0069,"hi":0.0126},{"c":"a2","g":"4d","k":"2","x":273.01,"lo":0.0064,"hi":0.0157},{"c":"a2","g":"4d","k":"2","x":274.2,"lo":0.007,"hi":0.0189},{"c":"a2","g":"4d","k":"2","x":275.8,"lo":0.009,"hi":0.022},{"c":"a2","g":"4d","k":"2","x":277.4,"lo":0.0121,"hi":0.024},{"c":"a2","g":"4d","k":"2","x":278.59,"lo":0.0153,"hi":0.0246},{"c":"a2","g":"4d","k":"2","x":279.39,"lo":0.0184,"hi":0.0241},{"c":"a2","g":"4d","k":"2","x":279.79,"lo":0.0219,"hi":0.0219},
{"c":"a3","g":"4d","k":"3","x":273.81,"lo":0.0123,"hi":0.0123},{"c":"a3","g":"4d","k":"3","x":274.0,"lo":0.0112,"hi":0.014},{"c":"a3","g":"4d","k":"3","x":274.4,"lo":0.011,"hi":0.0156},{"c":"a3","g":"4d","k":"3","x":275.0,"lo":0.0112,"hi":0.0172},{"c":"a3","g":"4d","k":"3","x":275.8,"lo":0.0123,"hi":0.0187},{"c":"a3","g":"4d","k":"3","x":276.6,"lo":0.0138,"hi":0.0198},{"c":"a3","g":"4d","k":"3","x":277.2,"lo":0.0154,"hi":0.0201},{"c":"a3","g":"4d","k":"3","x":277.6,"lo":0.017,"hi":0.0198},{"c":"a3","g":"4d","k":"3","x":277.8,"lo":0.0187,"hi":0.0187},
{"c":"b1","g":"13d","k":"1","x":274.3,"lo":0.0315,"hi":0.0315},{"c":"b1","g":"13d","k":"1","x":274.9,"lo":0.0285,"hi":0.0364},{"c":"b1","g":"13d","k":"1","x":276.1,"lo":0.0277,"hi":0.0408},{"c":"b1","g":"13d","k":"1","x":277.9,"lo":0.0285,"hi":0.0453},{"c":"b1","g":"13d","k":"1","x":280.3,"lo":0.0314,"hi":0.0496},{"c":"b1","g":"13d","k":"1","x":282.7,"lo":0.0357,"hi":0.0525},{"c":"b1","g":"13d","k":"1","x":284.5,"lo":0.0402,"hi":0.0533},{"c":"b1","g":"13d","k":"1","x":285.7,"lo":0.0446,"hi":0.0525},{"c":"b1","g":"13d","k":"1","x":286.3,"lo":0.0495,"hi":0.0495},
{"c":"b2","g":"13d","k":"2","x":276.1,"lo":0.0342,"hi":0.0342},{"c":"b2","g":"13d","k":"2","x":276.52,"lo":0.0321,"hi":0.0376},{"c":"b2","g":"13d","k":"2","x":277.36,"lo":0.0315,"hi":0.0407},{"c":"b2","g":"13d","k":"2","x":278.62,"lo":0.0321,"hi":0.0439},{"c":"b2","g":"13d","k":"2","x":280.3,"lo":0.0341,"hi":0.0469},{"c":"b2","g":"13d","k":"2","x":281.98,"lo":0.0371,"hi":0.0489},{"c":"b2","g":"13d","k":"2","x":283.24,"lo":0.0403,"hi":0.0495},{"c":"b2","g":"13d","k":"2","x":284.08,"lo":0.0434,"hi":0.0489},{"c":"b2","g":"13d","k":"2","x":284.5,"lo":0.0468,"hi":0.0468},
{"c":"b3","g":"13d","k":"3","x":278.2,"lo":0.0374,"hi":0.0374},{"c":"b3","g":"13d","k":"3","x":278.41,"lo":0.0363,"hi":0.0391},{"c":"b3","g":"13d","k":"3","x":278.83,"lo":0.036,"hi":0.0406},{"c":"b3","g":"13d","k":"3","x":279.46,"lo":0.0363,"hi":0.0422},{"c":"b3","g":"13d","k":"3","x":280.3,"lo":0.0373,"hi":0.0437},{"c":"b3","g":"13d","k":"3","x":281.14,"lo":0.0388,"hi":0.0447},{"c":"b3","g":"13d","k":"3","x":281.77,"lo":0.0404,"hi":0.045},{"c":"b3","g":"13d","k":"3","x":282.19,"lo":0.0419,"hi":0.0447},{"c":"b3","g":"13d","k":"3","x":282.4,"lo":0.0436,"hi":0.0436},
{"c":"c1","g":"all","k":"1","x":272.2,"lo":0.0184,"hi":0.0184},{"c":"c1","g":"all","k":"1","x":272.71,"lo":0.0146,"hi":0.0234},{"c":"c1","g":"all","k":"1","x":273.73,"lo":0.013,"hi":0.0273},{"c":"c1","g":"all","k":"1","x":275.26,"lo":0.0127,"hi":0.0311},{"c":"c1","g":"all","k":"1","x":277.3,"lo":0.0142,"hi":0.0343},{"c":"c1","g":"all","k":"1","x":279.34,"lo":0.0173,"hi":0.0357},{"c":"c1","g":"all","k":"1","x":280.87,"lo":0.0211,"hi":0.0354},{"c":"c1","g":"all","k":"1","x":281.89,"lo":0.025,"hi":0.0338},{"c":"c1","g":"all","k":"1","x":282.4,"lo":0.03,"hi":0.03},
{"c":"c2","g":"all","k":"2","x":273.73,"lo":0.0201,"hi":0.0201},{"c":"c2","g":"all","k":"2","x":274.09,"lo":0.0175,"hi":0.0236},{"c":"c2","g":"all","k":"2","x":274.8,"lo":0.0163,"hi":0.0264},{"c":"c2","g":"all","k":"2","x":275.87,"lo":0.0161,"hi":0.029},{"c":"c2","g":"all","k":"2","x":277.3,"lo":0.0172,"hi":0.0312},{"c":"c2","g":"all","k":"2","x":278.73,"lo":0.0194,"hi":0.0323},{"c":"c2","g":"all","k":"2","x":279.8,"lo":0.022,"hi":0.0321},{"c":"c2","g":"all","k":"2","x":280.51,"lo":0.0248,"hi":0.0309},{"c":"c2","g":"all","k":"2","x":280.87,"lo":0.0283,"hi":0.0283},
{"c":"c3","g":"all","k":"3","x":275.52,"lo":0.0222,"hi":0.0222},{"c":"c3","g":"all","k":"3","x":275.69,"lo":0.0208,"hi":0.0239},{"c":"c3","g":"all","k":"3","x":276.05,"lo":0.0203,"hi":0.0253},{"c":"c3","g":"all","k":"3","x":276.59,"lo":0.0202,"hi":0.0266},{"c":"c3","g":"all","k":"3","x":277.3,"lo":0.0207,"hi":0.0277},{"c":"c3","g":"all","k":"3","x":278.01,"lo":0.0218,"hi":0.0282},{"c":"c3","g":"all","k":"3","x":278.55,"lo":0.0231,"hi":0.0281},{"c":"c3","g":"all","k":"3","x":278.91,"lo":0.0245,"hi":0.0276},{"c":"c3","g":"all","k":"3","x":279.09,"lo":0.0262,"hi":0.0262}
],
"cDL": [
{"c":"a1","g":"4d","k":"1","x":37.158,"lo":0.0064,"hi":0.0064},{"c":"a1","g":"4d","k":"1","x":37.1624,"lo":0.0033,"hi":0.0114},{"c":"a1","g":"4d","k":"1","x":37.1714,"lo":0.0025,"hi":0.0158},{"c":"a1","g":"4d","k":"1","x":37.1848,"lo":0.0033,"hi":0.0204},{"c":"a1","g":"4d","k":"1","x":37.2026,"lo":0.0062,"hi":0.0248},{"c":"a1","g":"4d","k":"1","x":37.2204,"lo":0.0106,"hi":0.0277},{"c":"a1","g":"4d","k":"1","x":37.2338,"lo":0.0152,"hi":0.0285},{"c":"a1","g":"4d","k":"1","x":37.2428,"lo":0.0196,"hi":0.0277},{"c":"a1","g":"4d","k":"1","x":37.2472,"lo":0.0246,"hi":0.0246},
{"c":"a2","g":"4d","k":"2","x":37.1714,"lo":0.0091,"hi":0.0091},{"c":"a2","g":"4d","k":"2","x":37.1745,"lo":0.0069,"hi":0.0126},{"c":"a2","g":"4d","k":"2","x":37.1807,"lo":0.0064,"hi":0.0157},{"c":"a2","g":"4d","k":"2","x":37.1901,"lo":0.007,"hi":0.0189},{"c":"a2","g":"4d","k":"2","x":37.2026,"lo":0.009,"hi":0.022},{"c":"a2","g":"4d","k":"2","x":37.2151,"lo":0.0121,"hi":0.024},{"c":"a2","g":"4d","k":"2","x":37.2245,"lo":0.0153,"hi":0.0246},{"c":"a2","g":"4d","k":"2","x":37.2307,"lo":0.0184,"hi":0.0241},{"c":"a2","g":"4d","k":"2","x":37.2338,"lo":0.0219,"hi":0.0219},
{"c":"a3","g":"4d","k":"3","x":37.187,"lo":0.0123,"hi":0.0123},{"c":"a3","g":"4d","k":"3","x":37.1885,"lo":0.0112,"hi":0.014},{"c":"a3","g":"4d","k":"3","x":37.1917,"lo":0.011,"hi":0.0156},{"c":"a3","g":"4d","k":"3","x":37.1964,"lo":0.0112,"hi":0.0172},{"c":"a3","g":"4d","k":"3","x":37.2026,"lo":0.0123,"hi":0.0187},{"c":"a3","g":"4d","k":"3","x":37.2088,"lo":0.0138,"hi":0.0198},{"c":"a3","g":"4d","k":"3","x":37.2135,"lo":0.0154,"hi":0.0201},{"c":"a3","g":"4d","k":"3","x":37.2167,"lo":0.017,"hi":0.0198},{"c":"a3","g":"4d","k":"3","x":37.2182,"lo":0.0187,"hi":0.0187},
{"c":"b1","g":"13d","k":"1","x":37.1909,"lo":0.0315,"hi":0.0315},{"c":"b1","g":"13d","k":"1","x":37.1956,"lo":0.0285,"hi":0.0364},{"c":"b1","g":"13d","k":"1","x":37.205,"lo":0.0277,"hi":0.0408},{"c":"b1","g":"13d","k":"1","x":37.2191,"lo":0.0285,"hi":0.0453},{"c":"b1","g":"13d","k":"1","x":37.2379,"lo":0.0314,"hi":0.0496},{"c":"b1","g":"13d","k":"1","x":37.2567,"lo":0.0357,"hi":0.0525},{"c":"b1","g":"13d","k":"1","x":37.2708,"lo":0.0402,"hi":0.0533},{"c":"b1","g":"13d","k":"1","x":37.2802,"lo":0.0446,"hi":0.0525},{"c":"b1","g":"13d","k":"1","x":37.2849,"lo":0.0495,"hi":0.0495},
{"c":"b2","g":"13d","k":"2","x":37.205,"lo":0.0342,"hi":0.0342},{"c":"b2","g":"13d","k":"2","x":37.2083,"lo":0.0321,"hi":0.0376},{"c":"b2","g":"13d","k":"2","x":37.2149,"lo":0.0315,"hi":0.0407},{"c":"b2","g":"13d","k":"2","x":37.2247,"lo":0.0321,"hi":0.0439},{"c":"b2","g":"13d","k":"2","x":37.2379,"lo":0.0341,"hi":0.0469},{"c":"b2","g":"13d","k":"2","x":37.2511,"lo":0.0371,"hi":0.0489},{"c":"b2","g":"13d","k":"2","x":37.2609,"lo":0.0403,"hi":0.0495},{"c":"b2","g":"13d","k":"2","x":37.2675,"lo":0.0434,"hi":0.0489},{"c":"b2","g":"13d","k":"2","x":37.2708,"lo":0.0468,"hi":0.0468},
{"c":"b3","g":"13d","k":"3","x":37.2215,"lo":0.0374,"hi":0.0374},{"c":"b3","g":"13d","k":"3","x":37.2231,"lo":0.0363,"hi":0.0391},{"c":"b3","g":"13d","k":"3","x":37.2264,"lo":0.036,"hi":0.0406},{"c":"b3","g":"13d","k":"3","x":37.2313,"lo":0.0363,"hi":0.0422},{"c":"b3","g":"13d","k":"3","x":37.2379,"lo":0.0373,"hi":0.0437},{"c":"b3","g":"13d","k":"3","x":37.2445,"lo":0.0388,"hi":0.0447},{"c":"b3","g":"13d","k":"3","x":37.2494,"lo":0.0404,"hi":0.045},{"c":"b3","g":"13d","k":"3","x":37.2527,"lo":0.0419,"hi":0.0447},{"c":"b3","g":"13d","k":"3","x":37.2543,"lo":0.0436,"hi":0.0436},
{"c":"c1","g":"all","k":"1","x":37.1745,"lo":0.0184,"hi":0.0184},{"c":"c1","g":"all","k":"1","x":37.1785,"lo":0.0146,"hi":0.0234},{"c":"c1","g":"all","k":"1","x":37.1865,"lo":0.013,"hi":0.0273},{"c":"c1","g":"all","k":"1","x":37.1984,"lo":0.0127,"hi":0.0311},{"c":"c1","g":"all","k":"1","x":37.2144,"lo":0.0142,"hi":0.0343},{"c":"c1","g":"all","k":"1","x":37.2304,"lo":0.0173,"hi":0.0357},{"c":"c1","g":"all","k":"1","x":37.2423,"lo":0.0211,"hi":0.0354},{"c":"c1","g":"all","k":"1","x":37.2503,"lo":0.025,"hi":0.0338},{"c":"c1","g":"all","k":"1","x":37.2543,"lo":0.03,"hi":0.03},
{"c":"c2","g":"all","k":"2","x":37.1865,"lo":0.0201,"hi":0.0201},{"c":"c2","g":"all","k":"2","x":37.1893,"lo":0.0175,"hi":0.0236},{"c":"c2","g":"all","k":"2","x":37.1948,"lo":0.0163,"hi":0.0264},{"c":"c2","g":"all","k":"2","x":37.2032,"lo":0.0161,"hi":0.029},{"c":"c2","g":"all","k":"2","x":37.2144,"lo":0.0172,"hi":0.0312},{"c":"c2","g":"all","k":"2","x":37.2256,"lo":0.0194,"hi":0.0323},{"c":"c2","g":"all","k":"2","x":37.234,"lo":0.022,"hi":0.0321},{"c":"c2","g":"all","k":"2","x":37.2395,"lo":0.0248,"hi":0.0309},{"c":"c2","g":"all","k":"2","x":37.2423,"lo":0.0283,"hi":0.0283},
{"c":"c3","g":"all","k":"3","x":37.2004,"lo":0.0222,"hi":0.0222},{"c":"c3","g":"all","k":"3","x":37.2018,"lo":0.0208,"hi":0.0239},{"c":"c3","g":"all","k":"3","x":37.2046,"lo":0.0203,"hi":0.0253},{"c":"c3","g":"all","k":"3","x":37.2088,"lo":0.0202,"hi":0.0266},{"c":"c3","g":"all","k":"3","x":37.2144,"lo":0.0207,"hi":0.0277},{"c":"c3","g":"all","k":"3","x":37.22,"lo":0.0218,"hi":0.0282},{"c":"c3","g":"all","k":"3","x":37.2242,"lo":0.0231,"hi":0.0281},{"c":"c3","g":"all","k":"3","x":37.227,"lo":0.0245,"hi":0.0276},{"c":"c3","g":"all","k":"3","x":37.2284,"lo":0.0262,"hi":0.0262}
],
"hCRt": [
{"x":122.9,"h":0,"g":"m2d"},{"x":124.9,"h":0.01,"g":"m2d"},{"x":125.45,"h":0.03,"g":"m2d"},{"x":126.0,"h":0.06,"g":"m2d"},{"x":126.55,"h":0.1,"g":"m2d"},{"x":127.1,"h":0.16,"g":"m2d"},{"x":127.65,"h":0.25,"g":"m2d"},{"x":128.2,"h":0.34,"g":"m2d"},{"x":128.75,"h":0.4,"g":"m2d"},{"x":129.3,"h":0.45,"g":"m2d"},{"x":129.85,"h":0.42,"g":"m2d"},{"x":130.4,"h":0.36,"g":"m2d"},{"x":130.95,"h":0.3,"g":"m2d"},{"x":131.5,"h":0.21,"g":"m2d"},{"x":132.05,"h":0.12,"g":"m2d"},{"x":132.6,"h":0.06,"g":"m2d"},{"x":133.15,"h":0.03,"g":"m2d"},{"x":133.7,"h":0.01,"g":"m2d"},{"x":134.25,"h":0,"g":"m2d"},{"x":135.1,"h":0,"g":"m2d"},
{"x":122.9,"h":0,"g":"3p7d"},{"x":128.8,"h":0.01,"g":"3p7d"},{"x":129.16,"h":0.04,"g":"3p7d"},{"x":129.52,"h":0.12,"g":"3p7d"},{"x":129.88,"h":0.36,"g":"3p7d"},{"x":130.24,"h":0.7,"g":"3p7d"},{"x":130.6,"h":0.91,"g":"3p7d"},{"x":130.96,"h":0.85,"g":"3p7d"},{"x":131.32,"h":0.55,"g":"3p7d"},{"x":131.68,"h":0.25,"g":"3p7d"},{"x":132.04,"h":0.08,"g":"3p7d"},{"x":132.4,"h":0.02,"g":"3p7d"},{"x":132.76,"h":0,"g":"3p7d"},{"x":135.1,"h":0,"g":"3p7d"},
{"x":122.9,"h":0,"g":"all"},{"x":126.75,"h":0.01,"g":"all"},{"x":127.1,"h":0.04,"g":"all"},{"x":127.45,"h":0.12,"g":"all"},{"x":127.8,"h":0.36,"g":"all"},{"x":128.15,"h":0.7,"g":"all"},{"x":128.5,"h":0.91,"g":"all"},{"x":128.85,"h":0.86,"g":"all"},{"x":129.2,"h":0.66,"g":"all"},{"x":129.55,"h":0.36,"g":"all"},{"x":129.9,"h":0.12,"g":"all"},{"x":130.25,"h":0.03,"g":"all"},{"x":130.6,"h":0,"g":"all"},{"x":135.1,"h":0,"g":"all"}
],
"qCRt": [{"x":128.25,"g":"m2d"},{"x":129.49,"g":"m2d"},{"x":130.76,"g":"m2d"},{"x":130.14,"g":"3p7d"},{"x":130.66,"g":"3p7d"},{"x":131.17,"g":"3p7d"},{"x":128.35,"g":"all"},{"x":128.868,"g":"all"},{"x":129.377,"g":"all"}],
"hRr": [
{"x":-0.103,"h":0,"g":"m2d"},{"x":-0.062,"h":0.02,"g":"m2d"},{"x":-0.0567,"h":0.06,"g":"m2d"},{"x":-0.0514,"h":0.2,"g":"m2d"},{"x":-0.0461,"h":0.45,"g":"m2d"},{"x":-0.0408,"h":0.7,"g":"m2d"},{"x":-0.0355,"h":0.78,"g":"m2d"},{"x":-0.0302,"h":0.72,"g":"m2d"},{"x":-0.0249,"h":0.45,"g":"m2d"},{"x":-0.0196,"h":0.16,"g":"m2d"},{"x":-0.0143,"h":0.04,"g":"m2d"},{"x":-0.009,"h":0.01,"g":"m2d"},{"x":-0.0037,"h":0,"g":"m2d"},{"x":0.083,"h":0,"g":"m2d"},
{"x":-0.103,"h":0,"g":"3p7d"},{"x":0.0055,"h":0.01,"g":"3p7d"},{"x":0.0097,"h":0.1,"g":"3p7d"},{"x":0.0139,"h":0.58,"g":"3p7d"},{"x":0.0181,"h":0.88,"g":"3p7d"},{"x":0.0223,"h":0.93,"g":"3p7d"},{"x":0.0265,"h":0.55,"g":"3p7d"},{"x":0.0307,"h":0.3,"g":"3p7d"},{"x":0.0349,"h":0.1,"g":"3p7d"},{"x":0.0391,"h":0.02,"g":"3p7d"},{"x":0.0433,"h":0.005,"g":"3p7d"},{"x":0.0475,"h":0,"g":"3p7d"},{"x":0.083,"h":0,"g":"3p7d"},
{"x":-0.103,"h":0,"g":"all"},{"x":-0.0135,"h":0.01,"g":"all"},{"x":-0.01,"h":0.05,"g":"all"},{"x":-0.0065,"h":0.27,"g":"all"},{"x":-0.003,"h":0.6,"g":"all"},{"x":0.0005,"h":0.85,"g":"all"},{"x":0.004,"h":0.92,"g":"all"},{"x":0.0075,"h":0.6,"g":"all"},{"x":0.011,"h":0.25,"g":"all"},{"x":0.0145,"h":0.05,"g":"all"},{"x":0.018,"h":0.01,"g":"all"},{"x":0.0215,"h":0,"g":"all"},{"x":0.083,"h":0,"g":"all"}
],
"qRr": [{"x":-0.040,"g":"m2d"},{"x":-0.034,"g":"m2d"},{"x":-0.028,"g":"m2d"},{"x":0.018,"g":"3p7d"},{"x":0.021,"g":"3p7d"},{"x":0.024,"g":"3p7d"},{"x":0.0,"g":"all"},{"x":0.003,"g":"all"},{"x":0.006,"g":"all"}],
"hDRt": [
{"x":35.442,"h":0,"g":"m2d"},{"x":35.4841,"h":0.01,"g":"m2d"},{"x":35.4934,"h":0.03,"g":"m2d"},{"x":35.5027,"h":0.06,"g":"m2d"},{"x":35.5119,"h":0.1,"g":"m2d"},{"x":35.5212,"h":0.16,"g":"m2d"},{"x":35.5305,"h":0.25,"g":"m2d"},{"x":35.5397,"h":0.34,"g":"m2d"},{"x":35.549,"h":0.4,"g":"m2d"},{"x":35.5583,"h":0.45,"g":"m2d"},{"x":35.5675,"h":0.42,"g":"m2d"},{"x":35.5768,"h":0.36,"g":"m2d"},{"x":35.5861,"h":0.3,"g":"m2d"},{"x":35.5954,"h":0.21,"g":"m2d"},{"x":35.6046,"h":0.12,"g":"m2d"},{"x":35.6139,"h":0.06,"g":"m2d"},{"x":35.6232,"h":0.03,"g":"m2d"},{"x":35.6324,"h":0.01,"g":"m2d"},{"x":35.6417,"h":0,"g":"m2d"},{"x":35.657,"h":0,"g":"m2d"},
{"x":35.442,"h":0,"g":"3p7d"},{"x":35.5499,"h":0.01,"g":"3p7d"},{"x":35.5559,"h":0.04,"g":"3p7d"},{"x":35.562,"h":0.12,"g":"3p7d"},{"x":35.5681,"h":0.36,"g":"3p7d"},{"x":35.5741,"h":0.7,"g":"3p7d"},{"x":35.5802,"h":0.91,"g":"3p7d"},{"x":35.5863,"h":0.85,"g":"3p7d"},{"x":35.5923,"h":0.55,"g":"3p7d"},{"x":35.5984,"h":0.25,"g":"3p7d"},{"x":35.6045,"h":0.08,"g":"3p7d"},{"x":35.6105,"h":0.02,"g":"3p7d"},{"x":35.6166,"h":0,"g":"3p7d"},{"x":35.657,"h":0,"g":"3p7d"},
{"x":35.442,"h":0,"g":"all"},{"x":35.5153,"h":0.01,"g":"all"},{"x":35.5212,"h":0.04,"g":"all"},{"x":35.5271,"h":0.12,"g":"all"},{"x":35.533,"h":0.36,"g":"all"},{"x":35.5389,"h":0.7,"g":"all"},{"x":35.5448,"h":0.91,"g":"all"},{"x":35.5507,"h":0.86,"g":"all"},{"x":35.5566,"h":0.66,"g":"all"},{"x":35.5625,"h":0.36,"g":"all"},{"x":35.5684,"h":0.12,"g":"all"},{"x":35.5743,"h":0.03,"g":"all"},{"x":35.5802,"h":0,"g":"all"},{"x":35.657,"h":0,"g":"all"}
],
"qDRt": [{"x":35.5406,"g":"m2d"},{"x":35.5615,"g":"m2d"},{"x":35.5829,"g":"m2d"},{"x":35.5724,"g":"3p7d"},{"x":35.5812,"g":"3p7d"},{"x":35.5898,"g":"3p7d"},{"x":35.542,"g":"all"},{"x":35.551,"g":"all"},{"x":35.56,"g":"all"}],
"cCR": [
{"c":"a1","g":"m2d","k":"1","x":124.6,"lo":-0.0468,"hi":-0.0468},{"c":"a1","g":"m2d","k":"1","x":125.09,"lo":-0.0593,"hi":-0.0319},{"c":"a1","g":"m2d","k":"1","x":126.07,"lo":-0.0657,"hi":-0.0208},{"c":"a1","g":"m2d","k":"1","x":127.54,"lo":-0.0686,"hi":-0.0108},{"c":"a1","g":"m2d","k":"1","x":129.5,"lo":-0.0665,"hi":-0.0035},{"c":"a1","g":"m2d","k":"1","x":131.46,"lo":-0.0592,"hi":-0.0014},{"c":"a1","g":"m2d","k":"1","x":132.93,"lo":-0.0492,"hi":-0.0043},{"c":"a1","g":"m2d","k":"1","x":133.91,"lo":-0.0381,"hi":-0.0107},{"c":"a1","g":"m2d","k":"1","x":134.4,"lo":-0.0232,"hi":-0.0232},
{"c":"a2","g":"m2d","k":"2","x":126.07,"lo":-0.0432,"hi":-0.0432},{"c":"a2","g":"m2d","k":"2","x":126.41,"lo":-0.052,"hi":-0.0328},{"c":"a2","g":"m2d","k":"2","x":127.1,"lo":-0.0565,"hi":-0.025},{"c":"a2","g":"m2d","k":"2","x":128.13,"lo":-0.0585,"hi":-0.0181},{"c":"a2","g":"m2d","k":"2","x":129.5,"lo":-0.057,"hi":-0.013},{"c":"a2","g":"m2d","k":"2","x":130.87,"lo":-0.0519,"hi":-0.0115},{"c":"a2","g":"m2d","k":"2","x":131.9,"lo":-0.045,"hi":-0.0135},{"c":"a2","g":"m2d","k":"2","x":132.59,"lo":-0.0372,"hi":-0.018},{"c":"a2","g":"m2d","k":"2","x":132.93,"lo":-0.0268,"hi":-0.0268},
{"c":"a3","g":"m2d","k":"3","x":127.79,"lo":-0.0391,"hi":-0.0391},{"c":"a3","g":"m2d","k":"3","x":127.96,"lo":-0.0435,"hi":-0.0339},{"c":"a3","g":"m2d","k":"3","x":128.3,"lo":-0.0457,"hi":-0.03},{"c":"a3","g":"m2d","k":"3","x":128.81,"lo":-0.0467,"hi":-0.0265},{"c":"a3","g":"m2d","k":"3","x":129.5,"lo":-0.046,"hi":-0.024},{"c":"a3","g":"m2d","k":"3","x":130.19,"lo":-0.0435,"hi":-0.0233},{"c":"a3","g":"m2d","k":"3","x":130.7,"lo":-0.04,"hi":-0.0243},{"c":"a3","g":"m2d","k":"3","x":131.04,"lo":-0.0361,"hi":-0.0265},{"c":"a3","g":"m2d","k":"3","x":131.22,"lo":-0.0309,"hi":-0.0309},
{"c":"b1","g":"3p7d","k":"1","x":127.9,"lo":0.0088,"hi":0.0088},{"c":"b1","g":"3p7d","k":"1","x":128.17,"lo":0.0001,"hi":0.0201},{"c":"b1","g":"3p7d","k":"1","x":128.71,"lo":-0.0036,"hi":0.0291},{"c":"b1","g":"3p7d","k":"1","x":129.52,"lo":-0.0042,"hi":0.0377},{"c":"b1","g":"3p7d","k":"1","x":130.6,"lo":-0.0009,"hi":0.0449},{"c":"b1","g":"3p7d","k":"1","x":131.68,"lo":0.0063,"hi":0.0482},{"c":"b1","g":"3p7d","k":"1","x":132.49,"lo":0.0149,"hi":0.0476},{"c":"b1","g":"3p7d","k":"1","x":133.03,"lo":0.0239,"hi":0.0439},{"c":"b1","g":"3p7d","k":"1","x":133.3,"lo":0.0352,"hi":0.0352},
{"c":"b2","g":"3p7d","k":"2","x":128.71,"lo":0.0128,"hi":0.0128},{"c":"b2","g":"3p7d","k":"2","x":128.9,"lo":0.0067,"hi":0.0207},{"c":"b2","g":"3p7d","k":"2","x":129.28,"lo":0.0041,"hi":0.027},{"c":"b2","g":"3p7d","k":"2","x":129.84,"lo":0.0036,"hi":0.033},{"c":"b2","g":"3p7d","k":"2","x":130.6,"lo":0.006,"hi":0.038},{"c":"b2","g":"3p7d","k":"2","x":131.36,"lo":0.011,"hi":0.0404},{"c":"b2","g":"3p7d","k":"2","x":131.92,"lo":0.0171,"hi":0.0399},{"c":"b2","g":"3p7d","k":"2","x":132.3,"lo":0.0233,"hi":0.0373},{"c":"b2","g":"3p7d","k":"2","x":132.49,"lo":0.0312,"hi":0.0312},
{"c":"b3","g":"3p7d","k":"3","x":129.66,"lo":0.0174,"hi":0.0174},{"c":"b3","g":"3p7d","k":"3","x":129.75,"lo":0.0144,"hi":0.0213},{"c":"b3","g":"3p7d","k":"3","x":129.94,"lo":0.0131,"hi":0.0245},{"c":"b3","g":"3p7d","k":"3","x":130.22,"lo":0.0128,"hi":0.0275},{"c":"b3","g":"3p7d","k":"3","x":130.6,"lo":0.014,"hi":0.03},{"c":"b3","g":"3p7d","k":"3","x":130.98,"lo":0.0165,"hi":0.0312},{"c":"b3","g":"3p7d","k":"3","x":131.26,"lo":0.0195,"hi":0.0309},{"c":"b3","g":"3p7d","k":"3","x":131.45,"lo":0.0227,"hi":0.0297},{"c":"b3","g":"3p7d","k":"3","x":131.55,"lo":0.0266,"hi":0.0266},
{"c":"c1","g":"all","k":"1","x":126.2,"lo":-0.0087,"hi":-0.0087},{"c":"c1","g":"all","k":"1","x":126.46,"lo":-0.0177,"hi":0.003},{"c":"c1","g":"all","k":"1","x":126.98,"lo":-0.0215,"hi":0.0123},{"c":"c1","g":"all","k":"1","x":127.76,"lo":-0.0222,"hi":0.0213},{"c":"c1","g":"all","k":"1","x":128.8,"lo":-0.0187,"hi":0.0287},{"c":"c1","g":"all","k":"1","x":129.84,"lo":-0.0113,"hi":0.0322},{"c":"c1","g":"all","k":"1","x":130.62,"lo":-0.0023,"hi":0.0315},{"c":"c1","g":"all","k":"1","x":131.14,"lo":0.007,"hi":0.0277},{"c":"c1","g":"all","k":"1","x":131.4,"lo":0.0187,"hi":0.0187},
{"c":"c2","g":"all","k":"2","x":126.98,"lo":-0.0046,"hi":-0.0046},{"c":"c2","g":"all","k":"2","x":127.16,"lo":-0.0109,"hi":0.0036},{"c":"c2","g":"all","k":"2","x":127.53,"lo":-0.0136,"hi":0.0101},{"c":"c2","g":"all","k":"2","x":128.07,"lo":-0.0141,"hi":0.0164},{"c":"c2","g":"all","k":"2","x":128.8,"lo":-0.0116,"hi":0.0216},{"c":"c2","g":"all","k":"2","x":129.53,"lo":-0.0064,"hi":0.0241},{"c":"c2","g":"all","k":"2","x":130.07,"lo":-0.0001,"hi":0.0236},{"c":"c2","g":"all","k":"2","x":130.44,"lo":0.0064,"hi":0.0209},{"c":"c2","g":"all","k":"2","x":130.62,"lo":0.0146,"hi":0.0146},
{"c":"c3","g":"all","k":"3","x":127.89,"lo":0.0002,"hi":0.0002},{"c":"c3","g":"all","k":"3","x":127.98,"lo":-0.0029,"hi":0.0043},{"c":"c3","g":"all","k":"3","x":128.16,"lo":-0.0043,"hi":0.0076},{"c":"c3","g":"all","k":"3","x":128.44,"lo":-0.0045,"hi":0.0107},{"c":"c3","g":"all","k":"3","x":128.8,"lo":-0.0033,"hi":0.0133},{"c":"c3","g":"all","k":"3","x":129.16,"lo":-0.0007,"hi":0.0145},{"c":"c3","g":"all","k":"3","x":129.44,"lo":0.0024,"hi":0.0143},{"c":"c3","g":"all","k":"3","x":129.62,"lo":0.0057,"hi":0.0129},{"c":"c3","g":"all","k":"3","x":129.71,"lo":0.0098,"hi":0.0098}
],
"cDR": [
{"c":"a1","g":"m2d","k":"1","x":35.4791,"lo":-0.0468,"hi":-0.0468},{"c":"a1","g":"m2d","k":"1","x":35.4874,"lo":-0.0593,"hi":-0.0319},{"c":"a1","g":"m2d","k":"1","x":35.5039,"lo":-0.0657,"hi":-0.0208},{"c":"a1","g":"m2d","k":"1","x":35.5287,"lo":-0.0686,"hi":-0.0108},{"c":"a1","g":"m2d","k":"1","x":35.5617,"lo":-0.0665,"hi":-0.0035},{"c":"a1","g":"m2d","k":"1","x":35.5947,"lo":-0.0592,"hi":-0.0014},{"c":"a1","g":"m2d","k":"1","x":35.6195,"lo":-0.0492,"hi":-0.0043},{"c":"a1","g":"m2d","k":"1","x":35.636,"lo":-0.0381,"hi":-0.0107},{"c":"a1","g":"m2d","k":"1","x":35.6443,"lo":-0.0232,"hi":-0.0232},
{"c":"a2","g":"m2d","k":"2","x":35.5039,"lo":-0.0432,"hi":-0.0432},{"c":"a2","g":"m2d","k":"2","x":35.5097,"lo":-0.052,"hi":-0.0328},{"c":"a2","g":"m2d","k":"2","x":35.5212,"lo":-0.0565,"hi":-0.025},{"c":"a2","g":"m2d","k":"2","x":35.5386,"lo":-0.0585,"hi":-0.0181},{"c":"a2","g":"m2d","k":"2","x":35.5617,"lo":-0.057,"hi":-0.013},{"c":"a2","g":"m2d","k":"2","x":35.5848,"lo":-0.0519,"hi":-0.0115},{"c":"a2","g":"m2d","k":"2","x":35.6022,"lo":-0.045,"hi":-0.0135},{"c":"a2","g":"m2d","k":"2","x":35.6137,"lo":-0.0372,"hi":-0.018},{"c":"a2","g":"m2d","k":"2","x":35.6195,"lo":-0.0268,"hi":-0.0268},
{"c":"a3","g":"m2d","k":"3","x":35.5328,"lo":-0.0391,"hi":-0.0391},{"c":"a3","g":"m2d","k":"3","x":35.5357,"lo":-0.0435,"hi":-0.0339},{"c":"a3","g":"m2d","k":"3","x":35.5415,"lo":-0.0457,"hi":-0.03},{"c":"a3","g":"m2d","k":"3","x":35.5501,"lo":-0.0467,"hi":-0.0265},{"c":"a3","g":"m2d","k":"3","x":35.5617,"lo":-0.046,"hi":-0.024},{"c":"a3","g":"m2d","k":"3","x":35.5733,"lo":-0.0435,"hi":-0.0233},{"c":"a3","g":"m2d","k":"3","x":35.5819,"lo":-0.04,"hi":-0.0243},{"c":"a3","g":"m2d","k":"3","x":35.5877,"lo":-0.0361,"hi":-0.0265},{"c":"a3","g":"m2d","k":"3","x":35.5906,"lo":-0.0309,"hi":-0.0309},
{"c":"b1","g":"3p7d","k":"1","x":35.5347,"lo":0.0088,"hi":0.0088},{"c":"b1","g":"3p7d","k":"1","x":35.5392,"lo":0.0001,"hi":0.0201},{"c":"b1","g":"3p7d","k":"1","x":35.5484,"lo":-0.0036,"hi":0.0291},{"c":"b1","g":"3p7d","k":"1","x":35.562,"lo":-0.0042,"hi":0.0377},{"c":"b1","g":"3p7d","k":"1","x":35.5802,"lo":-0.0009,"hi":0.0449},{"c":"b1","g":"3p7d","k":"1","x":35.5984,"lo":0.0063,"hi":0.0482},{"c":"b1","g":"3p7d","k":"1","x":35.6121,"lo":0.0149,"hi":0.0476},{"c":"b1","g":"3p7d","k":"1","x":35.6212,"lo":0.0239,"hi":0.0439},{"c":"b1","g":"3p7d","k":"1","x":35.6257,"lo":0.0352,"hi":0.0352},
{"c":"b2","g":"3p7d","k":"2","x":35.5484,"lo":0.0128,"hi":0.0128},{"c":"b2","g":"3p7d","k":"2","x":35.5515,"lo":0.0067,"hi":0.0207},{"c":"b2","g":"3p7d","k":"2","x":35.5579,"lo":0.0041,"hi":0.027},{"c":"b2","g":"3p7d","k":"2","x":35.5675,"lo":0.0036,"hi":0.033},{"c":"b2","g":"3p7d","k":"2","x":35.5802,"lo":0.006,"hi":0.038},{"c":"b2","g":"3p7d","k":"2","x":35.5929,"lo":0.011,"hi":0.0404},{"c":"b2","g":"3p7d","k":"2","x":35.6025,"lo":0.0171,"hi":0.0399},{"c":"b2","g":"3p7d","k":"2","x":35.6089,"lo":0.0233,"hi":0.0373},{"c":"b2","g":"3p7d","k":"2","x":35.6121,"lo":0.0312,"hi":0.0312},
{"c":"b3","g":"3p7d","k":"3","x":35.5643,"lo":0.0174,"hi":0.0174},{"c":"b3","g":"3p7d","k":"3","x":35.5659,"lo":0.0144,"hi":0.0213},{"c":"b3","g":"3p7d","k":"3","x":35.569,"lo":0.0131,"hi":0.0245},{"c":"b3","g":"3p7d","k":"3","x":35.5738,"lo":0.0128,"hi":0.0275},{"c":"b3","g":"3p7d","k":"3","x":35.5802,"lo":0.014,"hi":0.03},{"c":"b3","g":"3p7d","k":"3","x":35.5866,"lo":0.0165,"hi":0.0312},{"c":"b3","g":"3p7d","k":"3","x":35.5914,"lo":0.0195,"hi":0.0309},{"c":"b3","g":"3p7d","k":"3","x":35.5945,"lo":0.0227,"hi":0.0297},{"c":"b3","g":"3p7d","k":"3","x":35.5961,"lo":0.0266,"hi":0.0266},
{"c":"c1","g":"all","k":"1","x":35.5061,"lo":-0.0087,"hi":-0.0087},{"c":"c1","g":"all","k":"1","x":35.5105,"lo":-0.0177,"hi":0.003},{"c":"c1","g":"all","k":"1","x":35.5192,"lo":-0.0215,"hi":0.0123},{"c":"c1","g":"all","k":"1","x":35.5324,"lo":-0.0222,"hi":0.0213},{"c":"c1","g":"all","k":"1","x":35.5499,"lo":-0.0187,"hi":0.0287},{"c":"c1","g":"all","k":"1","x":35.5674,"lo":-0.0113,"hi":0.0322},{"c":"c1","g":"all","k":"1","x":35.5806,"lo":-0.0023,"hi":0.0315},{"c":"c1","g":"all","k":"1","x":35.5893,"lo":0.007,"hi":0.0277},{"c":"c1","g":"all","k":"1","x":35.5937,"lo":0.0187,"hi":0.0187},
{"c":"c2","g":"all","k":"2","x":35.5192,"lo":-0.0046,"hi":-0.0046},{"c":"c2","g":"all","k":"2","x":35.5223,"lo":-0.0109,"hi":0.0036},{"c":"c2","g":"all","k":"2","x":35.5284,"lo":-0.0136,"hi":0.0101},{"c":"c2","g":"all","k":"2","x":35.5376,"lo":-0.0141,"hi":0.0164},{"c":"c2","g":"all","k":"2","x":35.5499,"lo":-0.0116,"hi":0.0216},{"c":"c2","g":"all","k":"2","x":35.5622,"lo":-0.0064,"hi":0.0241},{"c":"c2","g":"all","k":"2","x":35.5714,"lo":-0.0001,"hi":0.0236},{"c":"c2","g":"all","k":"2","x":35.5775,"lo":0.0064,"hi":0.0209},{"c":"c2","g":"all","k":"2","x":35.5806,"lo":0.0146,"hi":0.0146},
{"c":"c3","g":"all","k":"3","x":35.5346,"lo":0.0002,"hi":0.0002},{"c":"c3","g":"all","k":"3","x":35.5361,"lo":-0.0029,"hi":0.0043},{"c":"c3","g":"all","k":"3","x":35.5392,"lo":-0.0043,"hi":0.0076},{"c":"c3","g":"all","k":"3","x":35.5438,"lo":-0.0045,"hi":0.0107},{"c":"c3","g":"all","k":"3","x":35.5499,"lo":-0.0033,"hi":0.0133},{"c":"c3","g":"all","k":"3","x":35.556,"lo":-0.0007,"hi":0.0145},{"c":"c3","g":"all","k":"3","x":35.5606,"lo":0.0024,"hi":0.0143},{"c":"c3","g":"all","k":"3","x":35.5637,"lo":0.0057,"hi":0.0129},{"c":"c3","g":"all","k":"3","x":35.5652,"lo":0.0098,"hi":0.0098}
]
},
"hconcat": [
 {"vconcat": [
  {"vconcat": [
    {"width": 414, "height": 98, "data": {"name": "fAL"}, "mark": {"type": "line", "strokeWidth": 1.2, "clip": true},
     "encoding": {
      "x": {"field": "w", "type": "quantitative", "scale": {"domain": [3435, 8219], "nice": false, "zero": false}, "axis": {"values": [4000,5000,6000,7000,8000], "labels": false, "title": null}},
      "y": {"field": "f", "type": "quantitative", "scale": {"domain": [0, 0.7], "nice": false, "zero": false}, "axis": {"values": [0,0.2,0.4,0.6], "format": ".1f", "title": "Flux [10⁻¹⁵ erg cm⁻² s⁻¹ Å⁻¹]", "minExtent": 20, "maxExtent": 20, "titlePadding": 3}},
      "color": {"field": "s", "type": "nominal", "scale": {"domain": ["a","b"], "range": ["#5a85ea","#ff6b6b"]}, "legend": {"orient": "none", "legendX": 30, "legendY": -34, "title": null, "symbolType": "M-1,0L3,0", "symbolSize": 100, "symbolStrokeWidth": 1.4, "labelFont": "Liberation Sans", "labelFontSize": 8.6, "labelLimit": 800, "labelOffset": 16, "padding": 3, "rowPadding": 3, "strokeColor": "#d0d0d0", "fillColor": "#ffffff", "cornerRadius": 3, "labelExpr": "datum.label == 'a' ? 'SN2008bz 4d' : 'SN2011fe 4p24d ΔE(B − V) = 0.016⁺⁰·⁰⁰³₋₀.₀₀₃ D[Mpc] = 276.14⁺¹·¹⁰₋₁.₀₈ ± Δ(anchor)'"}},
      "strokeDash": {"field": "s", "type": "nominal", "scale": {"domain": ["a","b"], "range": [[1,0],[5,3]]}, "legend": {"orient": "none", "legendX": 30, "legendY": -34, "title": null, "symbolType": "M-1,0L3,0", "symbolSize": 100, "symbolStrokeWidth": 1.4, "labelFont": "Liberation Sans", "labelFontSize": 8.6, "labelLimit": 800, "labelOffset": 16, "padding": 3, "rowPadding": 3, "strokeColor": "#d0d0d0", "fillColor": "#ffffff", "cornerRadius": 3, "labelExpr": "datum.label == 'a' ? 'SN2008bz 4d' : 'SN2011fe 4p24d ΔE(B − V) = 0.016⁺⁰·⁰⁰³₋₀.₀₀₃ D[Mpc] = 276.14⁺¹·¹⁰₋₁.₀₈ ± Δ(anchor)'"}}
     }},
    {"width": 414, "height": 32, "data": {"name": "oAL"}, "mark": {"type": "line", "strokeDash": [4,2], "color": "#5cb85c", "strokeWidth": 1, "clip": true},
     "encoding": {
      "x": {"field": "w", "type": "quantitative", "scale": {"domain": [3435, 8219], "nice": false, "zero": false}, "axis": {"values": [4000,5000,6000,7000,8000], "format": "d", "title": "Wavelength (Å)", "minExtent": 13, "maxExtent": 13, "titlePadding": 4}},
      "y": {"field": "d", "type": "quantitative", "scale": {"domain": [-0.148, 0.11], "nice": false, "zero": false}, "axis": {"values": [-0.1,0,0.1], "format": ".1f", "title": "O-C", "minExtent": 20, "maxExtent": 20, "titlePadding": 3}}
     }},
    {"width": 1, "height": 55, "data": {"values": []}, "mark": {"type": "point", "opacity": 0}, "encoding": {}, "view": {"stroke": null}},
    {"width": 414, "height": 100, "data": {"name": "fBL"}, "mark": {"type": "line", "strokeWidth": 1.2, "clip": true},
     "encoding": {
      "x": {"field": "w", "type": "quantitative", "scale": {"domain": [3630, 8206], "nice": false, "zero": false}, "axis": {"values": [4000,5000,6000,7000,8000], "labels": false, "title": null}},
      "y": {"field": "f", "type": "quantitative", "scale": {"domain": [0, 0.353], "nice": false, "zero": false}, "axis": {"values": [0.1,0.2,0.3], "format": ".1f", "title": "Flux [10⁻¹⁵ erg cm⁻² s⁻¹ Å⁻¹]", "minExtent": 20, "maxExtent": 20, "titlePadding": 3}},
      "color": {"field": "s", "type": "nominal", "scale": {"domain": ["a","b"], "range": ["#5a85ea","#ff6b6b"]}, "legend": {"orient": "none", "legendX": 28, "legendY": -37, "title": null, "symbolType": "M-1,0L3,0", "symbolSize": 100, "symbolStrokeWidth": 1.4, "labelFont": "Liberation Sans", "labelFontSize": 8.6, "labelLimit": 800, "labelOffset": 16, "padding": 3, "rowPadding": 3, "strokeColor": "#d0d0d0", "fillColor": "#ffffff", "cornerRadius": 3, "labelExpr": "datum.label == 'a' ? 'SN2008bz 13d' : 'SN2011fe 12p22d ΔE(B − V) = 0.040⁺⁰·⁰⁰³₋₀.₀₀₃ D[Mpc] = 279.88⁺¹·¹⁸₋₁.₂₈ ± Δ(anchor)'"}},
      "strokeDash": {"field": "s", "type": "nominal", "scale": {"domain": ["a","b"], "range": [[1,0],[5,3]]}, "legend": {"orient": "none", "legendX": 28, "legendY": -37, "title": null, "symbolType": "M-1,0L3,0", "symbolSize": 100, "symbolStrokeWidth": 1.4, "labelFont": "Liberation Sans", "labelFontSize": 8.6, "labelLimit": 800, "labelOffset": 16, "padding": 3, "rowPadding": 3, "strokeColor": "#d0d0d0", "fillColor": "#ffffff", "cornerRadius": 3, "labelExpr": "datum.label == 'a' ? 'SN2008bz 13d' : 'SN2011fe 12p22d ΔE(B − V) = 0.040⁺⁰·⁰⁰³₋₀.₀₀₃ D[Mpc] = 279.88⁺¹·¹⁸₋₁.₂₈ ± Δ(anchor)'"}}
     }},
    {"width": 414, "height": 32, "data": {"name": "oBL"}, "mark": {"type": "line", "strokeDash": [4,2], "color": "#5cb85c", "strokeWidth": 1, "clip": true},
     "encoding": {
      "x": {"field": "w", "type": "quantitative", "scale": {"domain": [3630, 8206], "nice": false, "zero": false}, "axis": {"values": [4000,5000,6000,7000,8000], "format": "d", "title": "Wavelength (Å)", "minExtent": 13, "maxExtent": 13, "titlePadding": 4}},
      "y": {"field": "d", "type": "quantitative", "scale": {"domain": [-0.057, 0.033], "nice": false, "zero": false}, "axis": {"values": [-0.05,0], "format": ".2f", "title": "O-C", "minExtent": 20, "maxExtent": 20, "titlePadding": 3}}
     }}
  ], "spacing": 12, "bounds": "flush", "resolve": {"scale": {"color": "independent", "strokeDash": "independent"}}},
  {"vconcat": [
   {"concat": [
    {"width": 85, "height": 1, "data": {"values": []}, "mark": {"type": "point", "opacity": 0}, "encoding": {}, "view": {"stroke": null}},
    {"width": 121, "height": 120,
     "title": {"text": "D[Mpc] = 277.380⁺⁰·⁸⁶³₋₀.₈₃₁", "font": "Liberation Serif", "fontSize": 7.5, "fontWeight": "normal", "offset": 2},
     "layer": [
      {"data": {"name": "hCLt"}, "mark": {"type": "line", "interpolate": "step-after", "strokeWidth": 1.2, "clip": true},
       "encoding": {
        "x": {"field": "x", "type": "quantitative", "scale": {"domain": [263.8, 290.2], "nice": false, "zero": false}, "axis": {"values": [270,276,282,288], "labels": false, "title": null}},
        "y": {"field": "h", "type": "quantitative", "scale": {"domain": [0, 1], "nice": false}, "axis": null},
        "color": {"field": "g", "type": "nominal", "scale": {"domain": ["4d","13d","all"], "range": ["#6495ed","#32cd32","#ff8c00"]}, "legend": {"orient": "none", "legendX": 150, "legendY": 14, "title": null, "symbolType": "M-1,0L2.125,0", "symbolSize": 256, "symbolStrokeWidth": 1.5, "labelFont": "Liberation Sans", "labelFontSize": 10.5, "labelOffset": 17, "rowPadding": 1, "labelExpr": "'phase=' + datum.label"}}
       }},
      {"data": {"name": "qCLt"}, "mark": {"type": "rule", "strokeDash": [4,2], "strokeWidth": 1.1},
       "encoding": {"x": {"field": "x", "type": "quantitative"}, "color": {"field": "g", "type": "nominal"}}}
     ]},
    {"width": 121, "height": 1, "data": {"values": []}, "mark": {"type": "point", "opacity": 0}, "encoding": {}, "view": {"stroke": null}},
    {"width": 85, "height": 1, "data": {"values": []}, "mark": {"type": "point", "opacity": 0}, "encoding": {}, "view": {"stroke": null}},
    {"width": 121, "height": 120, "data": {"name": "cCL"}, "mark": {"type": "area", "interpolate": "monotone", "strokeWidth": 1, "clip": true},
     "encoding": {
      "x": {"field": "x", "type": "quantitative", "scale": {"domain": [263.8, 290.2], "nice": false, "zero": false}, "axis": {"values": [270,276,282,288], "labelFontSize": 7.5, "labelAngle": -45, "labelAlign": "center", "labelBaseline": "middle", "labelPadding": 6, "title": "D[Mpc]", "titleFontSize": 10, "minExtent": 28, "maxExtent": 28, "titlePadding": 4}},
      "y": {"field": "lo", "type": "quantitative", "scale": {"domain": [0, 0.055], "nice": false, "zero": false}, "axis": {"values": [0.015,0.03,0.045], "format": ".3f", "labelFontSize": 7.5, "labelAngle": -45, "labelAlign": "center", "labelBaseline": "middle", "labelPadding": 13, "title": "ΔE(B-V)", "titleFontSize": 10, "minExtent": 32, "maxExtent": 32, "titlePadding": 4}},
      "y2": {"field": "hi"},
      "color": {"field": "g", "type": "nominal", "scale": {"domain": ["4d","13d","all"], "range": ["#6495ed","#32cd32","#ff8c00"]}, "legend": null},
      "stroke": {"field": "g", "type": "nominal", "scale": {"domain": ["4d","13d","all"], "range": ["#6495ed","#32cd32","#ff8c00"]}, "legend": null},
      "fillOpacity": {"field": "k", "type": "ordinal", "scale": {"domain": ["1","2","3"], "range": [0.3,0.35,1]}, "legend": null},
      "detail": {"field": "c", "type": "nominal"}
     }},
    {"width": 121, "height": 120,
     "title": {"text": "ΔE(B-V) = 0.025⁺⁰·⁰⁰²₋₀.₀₀₂", "font": "Liberation Serif", "fontSize": 7.5, "fontWeight": "normal", "offset": 2},
     "layer": [
      {"data": {"name": "hLr"}, "mark": {"type": "line", "interpolate": "step-after", "strokeWidth": 1.2, "clip": true},
       "encoding": {
        "x": {"field": "x", "type": "quantitative", "scale": {"domain": [0, 0.055], "nice": false, "zero": false}, "axis": {"values": [0.015,0.03,0.045], "format": ".3f", "labelFontSize": 7.5, "labelAngle": -45, "labelAlign": "center", "labelBaseline": "middle", "labelPadding": 6, "title": "ΔE(B-V)", "titleFontSize": 11, "minExtent": 28, "maxExtent": 28, "titlePadding": 4}},
        "y": {"field": "h", "type": "quantitative", "scale": {"domain": [0, 1], "nice": false}, "axis": null},
        "color": {"field": "g", "type": "nominal", "scale": {"domain": ["4d","13d","all"], "range": ["#6495ed","#32cd32","#ff8c00"]}, "legend": null}
       }},
      {"data": {"name": "qLr"}, "mark": {"type": "rule", "strokeDash": [4,2], "strokeWidth": 1.1},
       "encoding": {"x": {"field": "x", "type": "quantitative"}, "color": {"field": "g", "type": "nominal"}}}
     ]}
   ], "columns": 3, "spacing": {"row": 7, "column": 5}, "align": "each", "bounds": "flush", "resolve": {"scale": {"color": "independent", "stroke": "independent", "fillOpacity": "independent"}}},
   {"concat": [
    {"width": 85, "height": 1, "data": {"values": []}, "mark": {"type": "point", "opacity": 0}, "encoding": {}, "view": {"stroke": null}},
    {"width": 121, "height": 121,
     "title": {"text": "μ = 37.215⁺⁰·⁰⁰⁷₋₀.₀₀₇", "font": "Liberation Serif", "fontSize": 7.5, "fontWeight": "normal", "offset": 2},
     "layer": [
      {"data": {"name": "hDLt"}, "mark": {"type": "line", "interpolate": "step-after", "strokeWidth": 1.2, "clip": true},
       "encoding": {
        "x": {"field": "x", "type": "quantitative", "scale": {"domain": [37.111, 37.318], "nice": false, "zero": false}, "axis": {"values": [37.15,37.2,37.25,37.3], "labels": false, "title": null}},
        "y": {"field": "h", "type": "quantitative", "scale": {"domain": [0, 1], "nice": false}, "axis": null},
        "color": {"field": "g", "type": "nominal", "scale": {"domain": ["4d","13d","all"], "range": ["#6495ed","#32cd32","#ff8c00"]}, "legend": {"orient": "none", "legendX": 150, "legendY": 14, "title": null, "symbolType": "M-1,0L2.125,0", "symbolSize": 256, "symbolStrokeWidth": 1.5, "labelFont": "Liberation Sans", "labelFontSize": 10.5, "labelOffset": 17, "rowPadding": 1, "labelExpr": "'phase=' + datum.label"}}
       }},
      {"data": {"name": "qDLt"}, "mark": {"type": "rule", "strokeDash": [4,2], "strokeWidth": 1.1},
       "encoding": {"x": {"field": "x", "type": "quantitative"}, "color": {"field": "g", "type": "nominal"}}}
     ]},
    {"width": 121, "height": 1, "data": {"values": []}, "mark": {"type": "point", "opacity": 0}, "encoding": {}, "view": {"stroke": null}},
    {"width": 85, "height": 1, "data": {"values": []}, "mark": {"type": "point", "opacity": 0}, "encoding": {}, "view": {"stroke": null}},
    {"width": 121, "height": 121, "data": {"name": "cDL"}, "mark": {"type": "area", "interpolate": "monotone", "strokeWidth": 1, "clip": true},
     "encoding": {
      "x": {"field": "x", "type": "quantitative", "scale": {"domain": [37.111, 37.318], "nice": false, "zero": false}, "axis": {"values": [37.15,37.2,37.25,37.3], "format": ".2f", "labelFontSize": 7.5, "labelAngle": -45, "labelAlign": "center", "labelBaseline": "middle", "labelPadding": 8, "title": "μ", "titleFont": "Liberation Serif", "titleFontStyle": "italic", "titleFontSize": 11, "minExtent": 28, "maxExtent": 28, "titlePadding": 4}},
      "y": {"field": "lo", "type": "quantitative", "scale": {"domain": [0, 0.055], "nice": false, "zero": false}, "axis": {"values": [0.015,0.03,0.045], "format": ".3f", "labelFontSize": 7.5, "labelAngle": -45, "labelAlign": "center", "labelBaseline": "middle", "labelPadding": 13, "title": "ΔE(B-V)", "titleFontSize": 10, "minExtent": 32, "maxExtent": 32, "titlePadding": 4}},
      "y2": {"field": "hi"},
      "color": {"field": "g", "type": "nominal", "scale": {"domain": ["4d","13d","all"], "range": ["#6495ed","#32cd32","#ff8c00"]}, "legend": null},
      "stroke": {"field": "g", "type": "nominal", "scale": {"domain": ["4d","13d","all"], "range": ["#6495ed","#32cd32","#ff8c00"]}, "legend": null},
      "fillOpacity": {"field": "k", "type": "ordinal", "scale": {"domain": ["1","2","3"], "range": [0.3,0.35,1]}, "legend": null},
      "detail": {"field": "c", "type": "nominal"}
     }},
    {"width": 121, "height": 121,
     "title": {"text": "ΔE(B-V) = 0.025⁺⁰·⁰⁰²₋₀.₀₀₂", "font": "Liberation Serif", "fontSize": 7.5, "fontWeight": "normal", "offset": 2},
     "layer": [
      {"data": {"name": "hLr"}, "mark": {"type": "line", "interpolate": "step-after", "strokeWidth": 1.2, "clip": true},
       "encoding": {
        "x": {"field": "x", "type": "quantitative", "scale": {"domain": [0, 0.055], "nice": false, "zero": false}, "axis": {"values": [0.015,0.03,0.045], "format": ".3f", "labelFontSize": 7.5, "labelAngle": -45, "labelAlign": "center", "labelBaseline": "middle", "labelPadding": 6, "title": "ΔE(B-V)", "titleFontSize": 11, "minExtent": 28, "maxExtent": 28, "titlePadding": 4}},
        "y": {"field": "h", "type": "quantitative", "scale": {"domain": [0, 1], "nice": false}, "axis": null},
        "color": {"field": "g", "type": "nominal", "scale": {"domain": ["4d","13d","all"], "range": ["#6495ed","#32cd32","#ff8c00"]}, "legend": null}
       }},
      {"data": {"name": "qLr"}, "mark": {"type": "rule", "strokeDash": [4,2], "strokeWidth": 1.1},
       "encoding": {"x": {"field": "x", "type": "quantitative"}, "color": {"field": "g", "type": "nominal"}}}
     ]}
   ], "columns": 3, "spacing": {"row": 5, "column": 5}, "align": "each", "bounds": "flush", "resolve": {"scale": {"color": "independent", "stroke": "independent", "fillOpacity": "independent"}}}
  ], "spacing": 19, "bounds": "full", "resolve": {"scale": {"color": "independent", "stroke": "independent", "fillOpacity": "independent"}}}
 ], "spacing": 14, "bounds": "full", "resolve": {"scale": {"color": "independent", "strokeDash": "independent", "stroke": "independent", "fillOpacity": "independent"}}},
 {"vconcat": [
  {"vconcat": [
    {"width": 421, "height": 101, "data": {"name": "fAR"}, "mark": {"type": "line", "strokeWidth": 1.2, "clip": true},
     "encoding": {
      "x": {"field": "w", "type": "quantitative", "scale": {"domain": [3248, 7702], "nice": false, "zero": false}, "axis": {"values": [3500,4000,4500,5000,5500,6000,6500,7000,7500], "labels": false, "title": null}},
      "y": {"field": "f", "type": "quantitative", "scale": {"domain": [0.166, 3.606], "nice": false, "zero": false}, "axis": {"values": [1,2,3], "format": "d", "title": "Flux [10⁻¹⁵ erg cm⁻² s⁻¹ Å⁻¹]", "minExtent": 20, "maxExtent": 20, "titlePadding": 3}},
      "color": {"field": "s", "type": "nominal", "scale": {"domain": ["a","b"], "range": ["#5a85ea","#ff6b6b"]}, "legend": {"orient": "none", "legendX": 32, "legendY": -35, "title": null, "symbolType": "M-1,0L3,0", "symbolSize": 100, "symbolStrokeWidth": 1.4, "labelFont": "Liberation Sans", "labelFontSize": 8.6, "labelLimit": 800, "labelOffset": 16, "padding": 3, "rowPadding": 3, "strokeColor": "#d0d0d0", "fillColor": "#ffffff", "cornerRadius": 3, "labelExpr": "datum.label == 'a' ? 'LSQ12fxd m2d' : 'SN2013dy m2d ΔE(B − V) = −0.034⁺⁰·⁰⁰⁶₋₀.₀₀₆ D[Mpc] = 129.49⁺¹·²⁷₋₁.₂₄ ± Δ(anchor)'"}},
      "strokeDash": {"field": "s", "type": "nominal", "scale": {"domain": ["a","b"], "range": [[1,0],[5,3]]}, "legend": {"orient": "none", "legendX": 32, "legendY": -35, "title": null, "symbolType": "M-1,0L3,0", "symbolSize": 100, "symbolStrokeWidth": 1.4, "labelFont": "Liberation Sans", "labelFontSize": 8.6, "labelLimit": 800, "labelOffset": 16, "padding": 3, "rowPadding": 3, "strokeColor": "#d0d0d0", "fillColor": "#ffffff", "cornerRadius": 3, "labelExpr": "datum.label == 'a' ? 'LSQ12fxd m2d' : 'SN2013dy m2d ΔE(B − V) = −0.034⁺⁰·⁰⁰⁶₋₀.₀₀₆ D[Mpc] = 129.49⁺¹·²⁷₋₁.₂₄ ± Δ(anchor)'"}}
     }},
    {"width": 421, "height": 34, "data": {"name": "oAR"}, "mark": {"type": "line", "strokeDash": [4,2], "color": "#5cb85c", "strokeWidth": 1, "clip": true},
     "encoding": {
      "x": {"field": "w", "type": "quantitative", "scale": {"domain": [3248, 7702], "nice": false, "zero": false}, "axis": {"values": [3500,4000,4500,5000,5500,6000,6500,7000,7500], "format": "d", "title": "Wavelength (Å)", "minExtent": 13, "maxExtent": 13, "titlePadding": 4}},
      "y": {"field": "d", "type": "quantitative", "scale": {"domain": [-1.35, 0.6], "nice": false, "zero": false}, "axis": {"values": [-1,0], "format": "d", "title": "O-C", "minExtent": 20, "maxExtent": 20, "titlePadding": 3}}
     }},
    {"width": 1, "height": 52, "data": {"values": []}, "mark": {"type": "point", "opacity": 0}, "encoding": {}, "view": {"stroke": null}},
    {"width": 421, "height": 101, "data": {"name": "fBR"}, "mark": {"type": "line", "strokeWidth": 1.2, "clip": true},
     "encoding": {
      "x": {"field": "w", "type": "quantitative", "scale": {"domain": [3270, 8213], "nice": false, "zero": false}, "axis": {"values": [4000,5000,6000,7000,8000], "labels": false, "title": null}},
      "y": {"field": "f", "type": "quantitative", "scale": {"domain": [0.045, 2.326], "nice": false, "zero": false}, "axis": {"values": [0.5,1,1.5,2], "format": ".1f", "title": "Flux [10⁻¹⁵ erg cm⁻² s⁻¹ Å⁻¹]", "minExtent": 20, "maxExtent": 20, "titlePadding": 3}},
      "color": {"field": "s", "type": "nominal", "scale": {"domain": ["a","b"], "range": ["#5a85ea","#ff6b6b"]}, "legend": {"orient": "none", "legendX": 37, "legendY": -34, "title": null, "symbolType": "M-1,0L3,0", "symbolSize": 100, "symbolStrokeWidth": 1.4, "labelFont": "Liberation Sans", "labelFontSize": 8.6, "labelLimit": 800, "labelOffset": 16, "padding": 3, "rowPadding": 3, "strokeColor": "#d0d0d0", "fillColor": "#ffffff", "cornerRadius": 3, "labelExpr": "datum.label == 'a' ? 'LSQ12fxd 3p7d' : 'SN2013dy 3p7d ΔE(B − V) = 0.021⁺⁰·⁰⁰³₋₀.₀₀₃ D[Mpc] = 130.66⁺⁰·⁵¹₋₀.₅₂ ± Δ(anchor)'"}},
      "strokeDash": {"field": "s", "type": "nominal", "scale": {"domain": ["a","b"], "range": [[1,0],[5,3]]}, "legend": {"orient": "none", "legendX": 37, "legendY": -34, "title": null, "symbolType": "M-1,0L3,0", "symbolSize": 100, "symbolStrokeWidth": 1.4, "labelFont": "Liberation Sans", "labelFontSize": 8.6, "labelLimit": 800, "labelOffset": 16, "padding": 3, "rowPadding": 3, "strokeColor": "#d0d0d0", "fillColor": "#ffffff", "cornerRadius": 3, "labelExpr": "datum.label == 'a' ? 'LSQ12fxd 3p7d' : 'SN2013dy 3p7d ΔE(B − V) = 0.021⁺⁰·⁰⁰³₋₀.₀₀₃ D[Mpc] = 130.66⁺⁰·⁵¹₋₀.₅₂ ± Δ(anchor)'"}}
     }},
    {"width": 421, "height": 34, "data": {"name": "oBR"}, "mark": {"type": "line", "strokeDash": [4,2], "color": "#5cb85c", "strokeWidth": 1, "clip": true},
     "encoding": {
      "x": {"field": "w", "type": "quantitative", "scale": {"domain": [3270, 8213], "nice": false, "zero": false}, "axis": {"values": [4000,5000,6000,7000,8000], "format": "d", "title": "Wavelength (Å)", "minExtent": 13, "maxExtent": 13, "titlePadding": 4}},
      "y": {"field": "d", "type": "quantitative", "scale": {"domain": [-1.03, 0.5], "nice": false, "zero": false}, "axis": {"values": [-0.5,0], "format": ".1f", "title": "O-C", "minExtent": 20, "maxExtent": 20, "titlePadding": 3}}
     }}
  ], "spacing": 11, "bounds": "flush", "resolve": {"scale": {"color": "independent", "strokeDash": "independent"}}},
  {"vconcat": [
   {"concat": [
    {"width": 14, "height": 1, "data": {"values": []}, "mark": {"type": "point", "opacity": 0}, "encoding": {}, "view": {"stroke": null}},
    {"width": 118, "height": 117,
     "title": {"text": "D[Mpc] = 128.868⁺⁰·⁵⁰⁹₋₀.₅₁₉", "font": "Liberation Serif", "fontSize": 7.5, "fontWeight": "normal", "offset": 2},
     "layer": [
      {"data": {"name": "hCRt"}, "mark": {"type": "line", "interpolate": "step-after", "strokeWidth": 1.2, "clip": true},
       "encoding": {
        "x": {"field": "x", "type": "quantitative", "scale": {"domain": [122.9, 135.1], "nice": false, "zero": false}, "axis": {"values": [125,127.5,130,132.5,135], "labels": false, "title": null}},
        "y": {"field": "h", "type": "quantitative", "scale": {"domain": [0, 1], "nice": false}, "axis": null},
        "color": {"field": "g", "type": "nominal", "scale": {"domain": ["m2d","3p7d","all"], "range": ["#6495ed","#32cd32","#ff8c00"]}, "legend": {"orient": "none", "legendX": 141, "legendY": 14, "title": null, "symbolType": "M-1,0L2.125,0", "symbolSize": 256, "symbolStrokeWidth": 1.5, "labelFont": "Liberation Sans", "labelFontSize": 10.5, "labelOffset": 17, "rowPadding": 1, "labelExpr": "'phase=' + datum.label"}}
       }},
      {"data": {"name": "qCRt"}, "mark": {"type": "rule", "strokeDash": [4,2], "strokeWidth": 1.1},
       "encoding": {"x": {"field": "x", "type": "quantitative"}, "color": {"field": "g", "type": "nominal"}}}
     ]},
    {"width": 118, "height": 1, "data": {"values": []}, "mark": {"type": "point", "opacity": 0}, "encoding": {}, "view": {"stroke": null}},
    {"width": 14, "height": 1, "data": {"values": []}, "mark": {"type": "point", "opacity": 0}, "encoding": {}, "view": {"stroke": null}},
    {"width": 118, "height": 118, "data": {"name": "cCR"}, "mark": {"type": "area", "interpolate": "monotone", "strokeWidth": 1, "clip": true},
     "encoding": {
      "x": {"field": "x", "type": "quantitative", "scale": {"domain": [122.9, 135.1], "nice": false, "zero": false}, "axis": {"values": [125,127.5,130,132.5,135], "format": ".1f", "labelFontSize": 7.5, "labelAngle": -45, "labelAlign": "center", "labelBaseline": "middle", "labelPadding": 8, "title": "D[Mpc]", "titleFontSize": 10, "minExtent": 28, "maxExtent": 28, "titlePadding": 4}},
      "y": {"field": "lo", "type": "quantitative", "scale": {"domain": [-0.103, 0.083], "nice": false, "zero": false}, "axis": {"values": [-0.08,-0.04,0,0.04,0.08], "format": ".2f", "labelFontSize": 7.5, "labelAngle": -45, "labelAlign": "center", "labelBaseline": "middle", "labelPadding": 13, "title": "ΔE(B-V)", "titleFontSize": 10, "minExtent": 32, "maxExtent": 32, "titlePadding": 4}},
      "y2": {"field": "hi"},
      "color": {"field": "g", "type": "nominal", "scale": {"domain": ["m2d","3p7d","all"], "range": ["#6495ed","#32cd32","#ff8c00"]}, "legend": null},
      "stroke": {"field": "g", "type": "nominal", "scale": {"domain": ["m2d","3p7d","all"], "range": ["#6495ed","#32cd32","#ff8c00"]}, "legend": null},
      "fillOpacity": {"field": "k", "type": "ordinal", "scale": {"domain": ["1","2","3"], "range": [0.3,0.35,1]}, "legend": null},
      "detail": {"field": "c", "type": "nominal"}
     }},
    {"width": 118, "height": 118,
     "title": {"text": "ΔE(B-V) = 0.003⁺⁰·⁰⁰³₋₀.₀₀₃", "font": "Liberation Serif", "fontSize": 7.5, "fontWeight": "normal", "offset": 2},
     "layer": [
      {"data": {"name": "hRr"}, "mark": {"type": "line", "interpolate": "step-after", "strokeWidth": 1.2, "clip": true},
       "encoding": {
        "x": {"field": "x", "type": "quantitative", "scale": {"domain": [-0.103, 0.083], "nice": false, "zero": false}, "axis": {"values": [-0.08,-0.04,0,0.04,0.08], "format": ".2f", "labelFontSize": 7.5, "labelAngle": -45, "labelAlign": "center", "labelBaseline": "middle", "labelPadding": 8, "title": "ΔE(B-V)", "titleFontSize": 11, "minExtent": 28, "maxExtent": 28, "titlePadding": 4}},
        "y": {"field": "h", "type": "quantitative", "scale": {"domain": [0, 1], "nice": false}, "axis": null},
        "color": {"field": "g", "type": "nominal", "scale": {"domain": ["m2d","3p7d","all"], "range": ["#6495ed","#32cd32","#ff8c00"]}, "legend": null}
       }},
      {"data": {"name": "qRr"}, "mark": {"type": "rule", "strokeDash": [4,2], "strokeWidth": 1.1},
       "encoding": {"x": {"field": "x", "type": "quantitative"}, "color": {"field": "g", "type": "nominal"}}}
     ]}
   ], "columns": 3, "spacing": {"row": 6, "column": 5}, "align": "each", "bounds": "flush", "resolve": {"scale": {"color": "independent", "stroke": "independent", "fillOpacity": "independent"}}},
   {"concat": [
    {"width": 14, "height": 1, "data": {"values": []}, "mark": {"type": "point", "opacity": 0}, "encoding": {}, "view": {"stroke": null}},
    {"width": 118, "height": 118,
     "title": {"text": "μ = 35.551⁺⁰·⁰⁰⁹₋₀.₀₀₉", "font": "Liberation Serif", "fontSize": 7.5, "fontWeight": "normal", "offset": 2},
     "layer": [
      {"data": {"name": "hDRt"}, "mark": {"type": "line", "interpolate": "step-after", "strokeWidth": 1.2, "clip": true},
       "encoding": {
        "x": {"field": "x", "type": "quantitative", "scale": {"domain": [35.442, 35.657], "nice": false, "zero": false}, "axis": {"values": [35.45,35.5,35.55,35.6,35.65], "labels": false, "title": null}},
        "y": {"field": "h", "type": "quantitative", "scale": {"domain": [0, 1], "nice": false}, "axis": null},
        "color": {"field": "g", "type": "nominal", "scale": {"domain": ["m2d","3p7d","all"], "range": ["#6495ed","#32cd32","#ff8c00"]}, "legend": {"orient": "none", "legendX": 141, "legendY": 14, "title": null, "symbolType": "M-1,0L2.125,0", "symbolSize": 256, "symbolStrokeWidth": 1.5, "labelFont": "Liberation Sans", "labelFontSize": 10.5, "labelOffset": 17, "rowPadding": 1, "labelExpr": "'phase=' + datum.label"}}
       }},
      {"data": {"name": "qDRt"}, "mark": {"type": "rule", "strokeDash": [4,2], "strokeWidth": 1.1},
       "encoding": {"x": {"field": "x", "type": "quantitative"}, "color": {"field": "g", "type": "nominal"}}}
     ]},
    {"width": 118, "height": 1, "data": {"values": []}, "mark": {"type": "point", "opacity": 0}, "encoding": {}, "view": {"stroke": null}},
    {"width": 14, "height": 1, "data": {"values": []}, "mark": {"type": "point", "opacity": 0}, "encoding": {}, "view": {"stroke": null}},
    {"width": 118, "height": 117, "data": {"name": "cDR"}, "mark": {"type": "area", "interpolate": "monotone", "strokeWidth": 1, "clip": true},
     "encoding": {
      "x": {"field": "x", "type": "quantitative", "scale": {"domain": [35.442, 35.657], "nice": false, "zero": false}, "axis": {"values": [35.45,35.5,35.55,35.6,35.65], "format": ".2f", "labelFontSize": 7.5, "labelAngle": -45, "labelAlign": "center", "labelBaseline": "middle", "labelPadding": 8, "title": "μ", "titleFont": "Liberation Serif", "titleFontStyle": "italic", "titleFontSize": 11, "minExtent": 28, "maxExtent": 28, "titlePadding": 4}},
      "y": {"field": "lo", "type": "quantitative", "scale": {"domain": [-0.103, 0.083], "nice": false, "zero": false}, "axis": {"values": [-0.08,-0.04,0,0.04,0.08], "format": ".2f", "labelFontSize": 7.5, "labelAngle": -45, "labelAlign": "center", "labelBaseline": "middle", "labelPadding": 13, "title": "ΔE(B-V)", "titleFontSize": 10, "minExtent": 32, "maxExtent": 32, "titlePadding": 4}},
      "y2": {"field": "hi"},
      "color": {"field": "g", "type": "nominal", "scale": {"domain": ["m2d","3p7d","all"], "range": ["#6495ed","#32cd32","#ff8c00"]}, "legend": null},
      "stroke": {"field": "g", "type": "nominal", "scale": {"domain": ["m2d","3p7d","all"], "range": ["#6495ed","#32cd32","#ff8c00"]}, "legend": null},
      "fillOpacity": {"field": "k", "type": "ordinal", "scale": {"domain": ["1","2","3"], "range": [0.3,0.35,1]}, "legend": null},
      "detail": {"field": "c", "type": "nominal"}
     }},
    {"width": 118, "height": 117,
     "title": {"text": "ΔE(B-V) = 0.003⁺⁰·⁰⁰³₋₀.₀₀₃", "font": "Liberation Serif", "fontSize": 7.5, "fontWeight": "normal", "offset": 2},
     "layer": [
      {"data": {"name": "hRr"}, "mark": {"type": "line", "interpolate": "step-after", "strokeWidth": 1.2, "clip": true},
       "encoding": {
        "x": {"field": "x", "type": "quantitative", "scale": {"domain": [-0.103, 0.083], "nice": false, "zero": false}, "axis": {"values": [-0.08,-0.04,0,0.04,0.08], "format": ".2f", "labelFontSize": 7.5, "labelAngle": -45, "labelAlign": "center", "labelBaseline": "middle", "labelPadding": 8, "title": "ΔE(B-V)", "titleFontSize": 11, "minExtent": 28, "maxExtent": 28, "titlePadding": 4}},
        "y": {"field": "h", "type": "quantitative", "scale": {"domain": [0, 1], "nice": false}, "axis": null},
        "color": {"field": "g", "type": "nominal", "scale": {"domain": ["m2d","3p7d","all"], "range": ["#6495ed","#32cd32","#ff8c00"]}, "legend": null}
       }},
      {"data": {"name": "qRr"}, "mark": {"type": "rule", "strokeDash": [4,2], "strokeWidth": 1.1},
       "encoding": {"x": {"field": "x", "type": "quantitative"}, "color": {"field": "g", "type": "nominal"}}}
     ]}
   ], "columns": 3, "spacing": {"row": 5, "column": 5}, "align": "each", "bounds": "flush", "resolve": {"scale": {"color": "independent", "stroke": "independent", "fillOpacity": "independent"}}}
  ], "spacing": 14, "bounds": "full", "resolve": {"scale": {"color": "independent", "stroke": "independent", "fillOpacity": "independent"}}}
 ], "spacing": 15, "bounds": "full", "resolve": {"scale": {"color": "independent", "strokeDash": "independent", "stroke": "independent", "fillOpacity": "independent"}}}
],
"spacing": 75,
"bounds": "full",
"resolve": {"scale": {"color": "independent", "strokeDash": "independent", "stroke": "independent", "fillOpacity": "independent"}}
}
